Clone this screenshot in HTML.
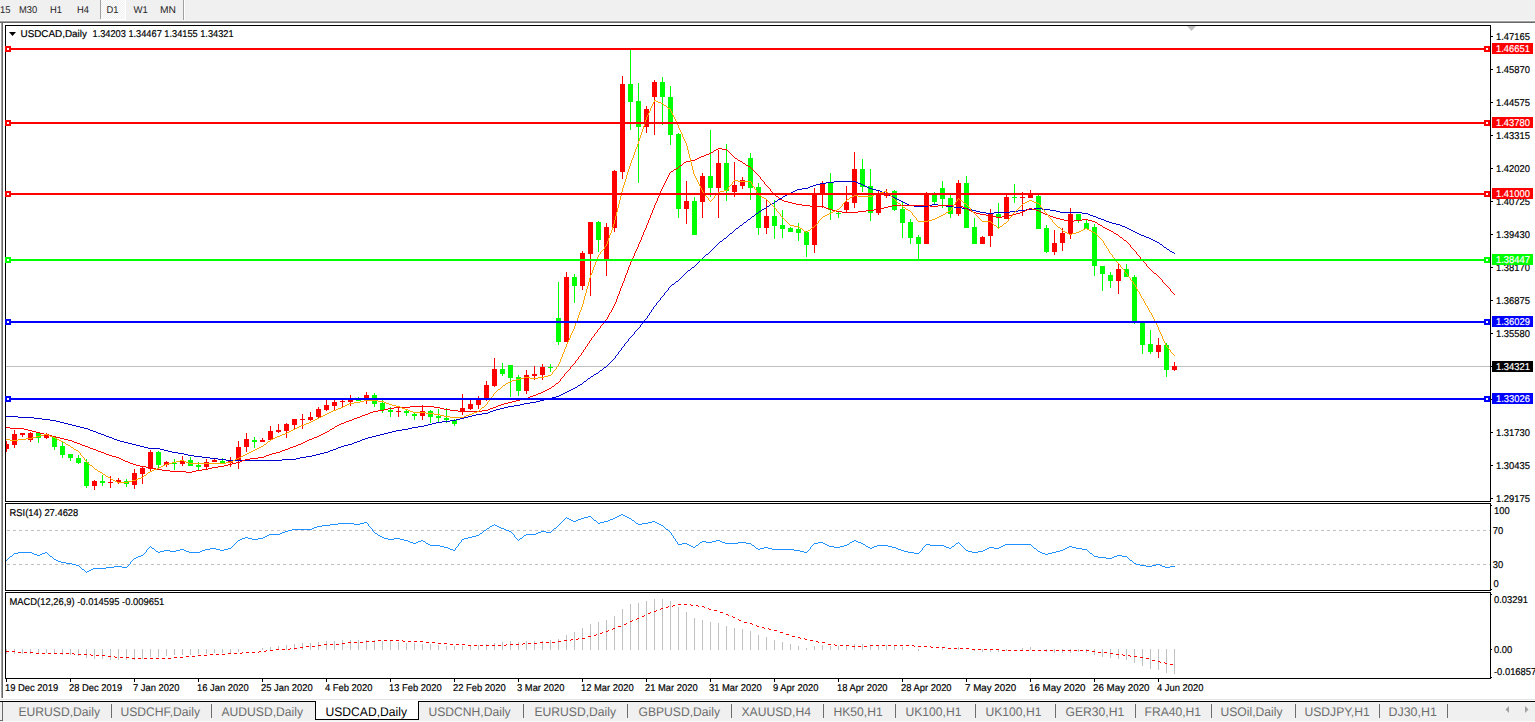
<!DOCTYPE html>
<html><head><meta charset="utf-8"><title>USDCAD,Daily</title>
<style>
html,body{margin:0;padding:0;background:#fff;}
#root{position:relative;width:1535px;height:722px;overflow:hidden;background:#fff;font-family:"Liberation Sans",sans-serif;}
.abs{position:absolute;}
svg text{font-family:"Liberation Sans",sans-serif;text-rendering:geometricPrecision;}
</style></head><body>
<div id="root">
<div class="abs" style="left:0;top:0;width:1535px;height:20px;background:#f0f0f0"></div>
<div class="abs" style="left:0;top:20px;width:1535px;height:1px;background:#f8f8f8"></div>
<div class="abs" style="left:0;top:21px;width:1535px;height:1px;background:#a0a0a0"></div>
<div class="abs" style="left:0;top:22px;width:1535px;height:1px;background:#696969"></div>
<div class="abs" style="left:1px;top:23px;width:1px;height:675px;background:#a0a0a0"></div>
<div class="abs" style="left:2px;top:23px;width:1px;height:675px;background:#696969"></div>
<div class="abs" style="left:0;top:699px;width:1535px;height:1px;background:#e3e3e3"></div>
<div class="abs" style="left:0;top:701px;width:1535px;height:1px;background:#000"></div>
<div class="abs" style="left:0;top:702px;width:1535px;height:20px;background:#f0f0f0"></div>
<div class="abs" style="left:2px;top:702px;width:1px;height:18px;background:#696969"></div>
<div class="abs" style="left:0;top:720px;width:3px;height:1px;background:#696969"></div>
<div class="abs" style="left:3px;top:721px;width:1532px;height:1px;background:#fafafa"></div>
<svg class="abs" style="left:0;top:0" width="1535" height="722">
<defs><pattern id="chk" x="0" y="0" width="2" height="2" patternUnits="userSpaceOnUse"><rect width="2" height="2" fill="#f0f0f0"/><rect width="1" height="1" fill="#fff"/><rect x="1" y="1" width="1" height="1" fill="#fff"/></pattern></defs><rect x="101" y="0" width="24" height="19" fill="url(#chk)"/>
<rect x="100" y="0" width="1" height="19" fill="#a0a0a0"/><rect x="125" y="0" width="1" height="20" fill="#fff"/><rect x="101" y="19" width="24" height="1" fill="#fff"/>
<rect x="183" y="0" width="1" height="20" fill="#a0a0a0"/><rect x="184" y="0" width="1" height="20" fill="#fff"/>
<text transform="translate(0,13) scale(0.9495,1)" font-size="9.9" fill="#262626">15</text>
<text transform="translate(19,13) scale(0.9495,1)" font-size="9.9" fill="#262626">M30</text>
<text transform="translate(50,13) scale(0.9495,1)" font-size="9.9" fill="#262626">H1</text>
<text transform="translate(77,13) scale(0.9495,1)" font-size="9.9" fill="#262626">H4</text>
<text transform="translate(106.5,13) scale(0.9495,1)" font-size="9.9" fill="#262626">D1</text>
<text transform="translate(133.5,13) scale(0.9697,1)" font-size="9.9" fill="#262626">W1</text>
<text transform="translate(160,13) scale(1.0404,1)" font-size="9.9" fill="#262626">MN</text>
<defs><clipPath id="cm"><rect x="6" y="26" width="1484" height="475"/></clipPath><clipPath id="cr"><rect x="6" y="504" width="1484" height="86"/></clipPath><clipPath id="cd"><rect x="6" y="593" width="1484" height="85"/></clipPath></defs>
<rect x="5" y="25" width="1486" height="1" fill="#000"/>
<rect x="5" y="501" width="1486" height="1" fill="#000"/>
<rect x="5" y="25" width="1" height="477" fill="#000"/>
<rect x="1490" y="25" width="1" height="477" fill="#000"/>
<rect x="5" y="503" width="1486" height="1" fill="#000"/>
<rect x="5" y="590" width="1486" height="1" fill="#000"/>
<rect x="5" y="503" width="1" height="88" fill="#000"/>
<rect x="1490" y="503" width="1" height="88" fill="#000"/>
<rect x="5" y="592" width="1486" height="1" fill="#000"/>
<rect x="5" y="678" width="1486" height="1" fill="#000"/>
<rect x="5" y="592" width="1" height="87" fill="#000"/>
<rect x="1490" y="592" width="1" height="87" fill="#000"/>
<g clip-path="url(#cm)">
<rect x="6" y="366" width="1484" height="1" fill="#c0c0c0"/>
<g>
<rect x="6" y="441" width="1" height="11" fill="#ff0000"/><rect x="4" y="444" width="5" height="5" fill="#ff0000"/>
<rect x="14" y="430" width="1" height="18" fill="#ff0000"/><rect x="12" y="434" width="5" height="11" fill="#ff0000"/>
<rect x="22" y="433" width="1" height="4" fill="#ff0000"/><rect x="20" y="433" width="5" height="2" fill="#ff0000"/>
<rect x="30" y="432" width="1" height="10" fill="#ff0000"/><rect x="28" y="433" width="5" height="7" fill="#ff0000"/>
<rect x="38" y="433" width="1" height="10" fill="#00ff00"/><rect x="36" y="433" width="5" height="5" fill="#00ff00"/>
<rect x="46" y="433" width="1" height="6" fill="#ff0000"/><rect x="44" y="434" width="5" height="4" fill="#ff0000"/>
<rect x="54" y="436" width="1" height="14" fill="#00ff00"/><rect x="52" y="437" width="5" height="10" fill="#00ff00"/>
<rect x="62" y="442" width="1" height="16" fill="#00ff00"/><rect x="60" y="446" width="5" height="9" fill="#00ff00"/>
<rect x="70" y="454" width="1" height="7" fill="#00ff00"/><rect x="68" y="454" width="5" height="4" fill="#00ff00"/>
<rect x="78" y="455" width="1" height="9" fill="#00ff00"/><rect x="76" y="458" width="5" height="5" fill="#00ff00"/>
<rect x="86" y="459" width="1" height="29" fill="#00ff00"/><rect x="84" y="462" width="5" height="24" fill="#00ff00"/>
<rect x="94" y="480" width="1" height="10" fill="#ff0000"/><rect x="92" y="481" width="5" height="5" fill="#ff0000"/>
<rect x="102" y="475" width="1" height="11" fill="#00ff00"/><rect x="100" y="481" width="5" height="2" fill="#00ff00"/>
<rect x="110" y="476" width="1" height="12" fill="#ff0000"/><rect x="108" y="482" width="5" height="1" fill="#ff0000"/>
<rect x="118" y="478" width="1" height="6" fill="#ff0000"/><rect x="116" y="480" width="5" height="2" fill="#ff0000"/>
<rect x="126" y="479" width="1" height="8" fill="#00ff00"/><rect x="124" y="481" width="5" height="3" fill="#00ff00"/>
<rect x="134" y="469" width="1" height="20" fill="#ff0000"/><rect x="132" y="473" width="5" height="12" fill="#ff0000"/>
<rect x="142" y="467" width="1" height="17" fill="#ff0000"/><rect x="140" y="468" width="5" height="6" fill="#ff0000"/>
<rect x="150" y="450" width="1" height="21" fill="#ff0000"/><rect x="148" y="452" width="5" height="17" fill="#ff0000"/>
<rect x="158" y="451" width="1" height="17" fill="#00ff00"/><rect x="156" y="452" width="5" height="13" fill="#00ff00"/>
<rect x="166" y="461" width="1" height="6" fill="#ff0000"/><rect x="164" y="462" width="5" height="3" fill="#ff0000"/>
<rect x="174" y="459" width="1" height="11" fill="#00ff00"/><rect x="172" y="463" width="5" height="1" fill="#00ff00"/>
<rect x="182" y="456" width="1" height="10" fill="#ff0000"/><rect x="180" y="461" width="5" height="3" fill="#ff0000"/>
<rect x="190" y="457" width="1" height="9" fill="#00ff00"/><rect x="188" y="460" width="5" height="6" fill="#00ff00"/>
<rect x="198" y="462" width="1" height="8" fill="#00ff00"/><rect x="196" y="465" width="5" height="2" fill="#00ff00"/>
<rect x="206" y="459" width="1" height="10" fill="#ff0000"/><rect x="204" y="462" width="5" height="5" fill="#ff0000"/>
<rect x="214" y="459" width="1" height="3" fill="#ff0000"/><rect x="212" y="460" width="5" height="2" fill="#ff0000"/>
<rect x="222" y="458" width="1" height="5" fill="#00ff00"/><rect x="220" y="461" width="5" height="2" fill="#00ff00"/>
<rect x="230" y="457" width="1" height="10" fill="#ff0000"/><rect x="228" y="461" width="5" height="2" fill="#ff0000"/>
<rect x="238" y="441" width="1" height="28" fill="#ff0000"/><rect x="236" y="447" width="5" height="13" fill="#ff0000"/>
<rect x="246" y="433" width="1" height="19" fill="#ff0000"/><rect x="244" y="439" width="5" height="8" fill="#ff0000"/>
<rect x="254" y="437" width="1" height="11" fill="#00ff00"/><rect x="252" y="440" width="5" height="2" fill="#00ff00"/>
<rect x="262" y="438" width="1" height="4" fill="#ff0000"/><rect x="260" y="440" width="5" height="2" fill="#ff0000"/>
<rect x="270" y="426" width="1" height="14" fill="#ff0000"/><rect x="268" y="431" width="5" height="9" fill="#ff0000"/>
<rect x="278" y="424" width="1" height="9" fill="#ff0000"/><rect x="276" y="430" width="5" height="2" fill="#ff0000"/>
<rect x="286" y="423" width="1" height="15" fill="#ff0000"/><rect x="284" y="424" width="5" height="7" fill="#ff0000"/>
<rect x="294" y="419" width="1" height="10" fill="#ff0000"/><rect x="292" y="419" width="5" height="6" fill="#ff0000"/>
<rect x="302" y="414" width="1" height="15" fill="#ff0000"/><rect x="300" y="419" width="5" height="1" fill="#ff0000"/>
<rect x="310" y="412" width="1" height="9" fill="#ff0000"/><rect x="308" y="417" width="5" height="3" fill="#ff0000"/>
<rect x="318" y="407" width="1" height="11" fill="#ff0000"/><rect x="316" y="409" width="5" height="8" fill="#ff0000"/>
<rect x="326" y="398" width="1" height="13" fill="#ff0000"/><rect x="324" y="405" width="5" height="5" fill="#ff0000"/>
<rect x="334" y="398" width="1" height="12" fill="#ff0000"/><rect x="332" y="402" width="5" height="4" fill="#ff0000"/>
<rect x="342" y="398" width="1" height="9" fill="#ff0000"/><rect x="340" y="401" width="5" height="1" fill="#ff0000"/>
<rect x="350" y="395" width="1" height="11" fill="#ff0000"/><rect x="348" y="400" width="5" height="2" fill="#ff0000"/>
<rect x="358" y="397" width="1" height="4" fill="#00ff00"/><rect x="356" y="398" width="5" height="3" fill="#00ff00"/>
<rect x="366" y="392" width="1" height="12" fill="#ff0000"/><rect x="364" y="395" width="5" height="3" fill="#ff0000"/>
<rect x="374" y="393" width="1" height="14" fill="#00ff00"/><rect x="372" y="395" width="5" height="9" fill="#00ff00"/>
<rect x="382" y="400" width="1" height="13" fill="#00ff00"/><rect x="380" y="403" width="5" height="7" fill="#00ff00"/>
<rect x="390" y="407" width="1" height="10" fill="#00ff00"/><rect x="388" y="410" width="5" height="2" fill="#00ff00"/>
<rect x="398" y="407" width="1" height="10" fill="#ff0000"/><rect x="396" y="411" width="5" height="1" fill="#ff0000"/>
<rect x="406" y="410" width="1" height="6" fill="#00ff00"/><rect x="404" y="411" width="5" height="2" fill="#00ff00"/>
<rect x="414" y="413" width="1" height="7" fill="#00ff00"/><rect x="412" y="414" width="5" height="2" fill="#00ff00"/>
<rect x="422" y="405" width="1" height="15" fill="#ff0000"/><rect x="420" y="411" width="5" height="5" fill="#ff0000"/>
<rect x="430" y="410" width="1" height="13" fill="#00ff00"/><rect x="428" y="411" width="5" height="6" fill="#00ff00"/>
<rect x="438" y="409" width="1" height="13" fill="#00ff00"/><rect x="436" y="416" width="5" height="2" fill="#00ff00"/>
<rect x="446" y="408" width="1" height="15" fill="#00ff00"/><rect x="444" y="418" width="5" height="2" fill="#00ff00"/>
<rect x="454" y="419" width="1" height="7" fill="#00ff00"/><rect x="452" y="420" width="5" height="4" fill="#00ff00"/>
<rect x="462" y="394" width="1" height="21" fill="#ff0000"/><rect x="460" y="408" width="5" height="4" fill="#ff0000"/>
<rect x="470" y="398" width="1" height="12" fill="#ff0000"/><rect x="468" y="404" width="5" height="5" fill="#ff0000"/>
<rect x="478" y="396" width="1" height="13" fill="#ff0000"/><rect x="476" y="400" width="5" height="5" fill="#ff0000"/>
<rect x="486" y="381" width="1" height="20" fill="#ff0000"/><rect x="484" y="385" width="5" height="14" fill="#ff0000"/>
<rect x="494" y="358" width="1" height="29" fill="#ff0000"/><rect x="492" y="369" width="5" height="17" fill="#ff0000"/>
<rect x="502" y="363" width="1" height="13" fill="#00ff00"/><rect x="500" y="369" width="5" height="5" fill="#00ff00"/>
<rect x="510" y="365" width="1" height="32" fill="#00ff00"/><rect x="508" y="365" width="5" height="13" fill="#00ff00"/>
<rect x="518" y="375" width="1" height="21" fill="#00ff00"/><rect x="516" y="377" width="5" height="14" fill="#00ff00"/>
<rect x="526" y="370" width="1" height="24" fill="#ff0000"/><rect x="524" y="375" width="5" height="16" fill="#ff0000"/>
<rect x="534" y="366" width="1" height="14" fill="#ff0000"/><rect x="532" y="374" width="5" height="2" fill="#ff0000"/>
<rect x="542" y="364" width="1" height="16" fill="#ff0000"/><rect x="540" y="367" width="5" height="8" fill="#ff0000"/>
<rect x="550" y="364" width="1" height="8" fill="#00ff00"/><rect x="548" y="367" width="5" height="1" fill="#00ff00"/>
<rect x="558" y="282" width="1" height="63" fill="#00ff00"/><rect x="556" y="318" width="5" height="24" fill="#00ff00"/>
<rect x="566" y="272" width="1" height="70" fill="#ff0000"/><rect x="564" y="277" width="5" height="65" fill="#ff0000"/>
<rect x="574" y="274" width="1" height="29" fill="#00ff00"/><rect x="572" y="277" width="5" height="9" fill="#00ff00"/>
<rect x="582" y="251" width="1" height="39" fill="#ff0000"/><rect x="580" y="253" width="5" height="33" fill="#ff0000"/>
<rect x="590" y="222" width="1" height="74" fill="#ff0000"/><rect x="588" y="222" width="5" height="32" fill="#ff0000"/>
<rect x="598" y="221" width="1" height="31" fill="#00ff00"/><rect x="596" y="222" width="5" height="18" fill="#00ff00"/>
<rect x="606" y="223" width="1" height="53" fill="#ff0000"/><rect x="604" y="227" width="5" height="32" fill="#ff0000"/>
<rect x="614" y="170" width="1" height="62" fill="#ff0000"/><rect x="612" y="171" width="5" height="57" fill="#ff0000"/>
<rect x="622" y="76" width="1" height="103" fill="#ff0000"/><rect x="620" y="84" width="5" height="88" fill="#ff0000"/>
<rect x="630" y="49" width="1" height="81" fill="#00ff00"/><rect x="628" y="84" width="5" height="18" fill="#00ff00"/>
<rect x="638" y="83" width="1" height="100" fill="#00ff00"/><rect x="636" y="101" width="5" height="26" fill="#00ff00"/>
<rect x="646" y="106" width="1" height="27" fill="#ff0000"/><rect x="644" y="109" width="5" height="18" fill="#ff0000"/>
<rect x="654" y="80" width="1" height="55" fill="#ff0000"/><rect x="652" y="82" width="5" height="15" fill="#ff0000"/>
<rect x="662" y="77" width="1" height="48" fill="#00ff00"/><rect x="660" y="82" width="5" height="15" fill="#00ff00"/>
<rect x="670" y="86" width="1" height="59" fill="#00ff00"/><rect x="668" y="97" width="5" height="38" fill="#00ff00"/>
<rect x="678" y="133" width="1" height="85" fill="#00ff00"/><rect x="676" y="134" width="5" height="75" fill="#00ff00"/>
<rect x="686" y="181" width="1" height="43" fill="#ff0000"/><rect x="684" y="201" width="5" height="8" fill="#ff0000"/>
<rect x="694" y="197" width="1" height="38" fill="#00ff00"/><rect x="692" y="201" width="5" height="34" fill="#00ff00"/>
<rect x="702" y="173" width="1" height="45" fill="#ff0000"/><rect x="700" y="176" width="5" height="26" fill="#ff0000"/>
<rect x="710" y="130" width="1" height="67" fill="#00ff00"/><rect x="708" y="176" width="5" height="12" fill="#00ff00"/>
<rect x="718" y="150" width="1" height="68" fill="#ff0000"/><rect x="716" y="163" width="5" height="25" fill="#ff0000"/>
<rect x="726" y="144" width="1" height="57" fill="#00ff00"/><rect x="724" y="163" width="5" height="28" fill="#00ff00"/>
<rect x="734" y="162" width="1" height="35" fill="#ff0000"/><rect x="732" y="185" width="5" height="7" fill="#ff0000"/>
<rect x="742" y="177" width="1" height="12" fill="#ff0000"/><rect x="740" y="180" width="5" height="6" fill="#ff0000"/>
<rect x="750" y="153" width="1" height="47" fill="#00ff00"/><rect x="748" y="158" width="5" height="30" fill="#00ff00"/>
<rect x="758" y="183" width="1" height="52" fill="#00ff00"/><rect x="756" y="187" width="5" height="41" fill="#00ff00"/>
<rect x="766" y="199" width="1" height="35" fill="#ff0000"/><rect x="764" y="216" width="5" height="12" fill="#ff0000"/>
<rect x="774" y="200" width="1" height="39" fill="#00ff00"/><rect x="772" y="216" width="5" height="10" fill="#00ff00"/>
<rect x="782" y="210" width="1" height="28" fill="#00ff00"/><rect x="780" y="225" width="5" height="4" fill="#00ff00"/>
<rect x="790" y="227" width="1" height="5" fill="#00ff00"/><rect x="788" y="228" width="5" height="4" fill="#00ff00"/>
<rect x="798" y="223" width="1" height="18" fill="#00ff00"/><rect x="796" y="229" width="5" height="4" fill="#00ff00"/>
<rect x="806" y="231" width="1" height="26" fill="#00ff00"/><rect x="804" y="232" width="5" height="13" fill="#00ff00"/>
<rect x="814" y="188" width="1" height="65" fill="#ff0000"/><rect x="812" y="194" width="5" height="51" fill="#ff0000"/>
<rect x="822" y="181" width="1" height="27" fill="#ff0000"/><rect x="820" y="184" width="5" height="10" fill="#ff0000"/>
<rect x="830" y="173" width="1" height="47" fill="#00ff00"/><rect x="828" y="183" width="5" height="27" fill="#00ff00"/>
<rect x="838" y="211" width="1" height="7" fill="#00ff00"/><rect x="836" y="213" width="5" height="1" fill="#00ff00"/>
<rect x="846" y="186" width="1" height="27" fill="#ff0000"/><rect x="844" y="202" width="5" height="8" fill="#ff0000"/>
<rect x="854" y="152" width="1" height="56" fill="#ff0000"/><rect x="852" y="169" width="5" height="34" fill="#ff0000"/>
<rect x="862" y="159" width="1" height="33" fill="#00ff00"/><rect x="860" y="169" width="5" height="18" fill="#00ff00"/>
<rect x="870" y="169" width="1" height="52" fill="#00ff00"/><rect x="868" y="186" width="5" height="27" fill="#00ff00"/>
<rect x="878" y="191" width="1" height="24" fill="#ff0000"/><rect x="876" y="194" width="5" height="19" fill="#ff0000"/>
<rect x="886" y="189" width="1" height="9" fill="#ff0000"/><rect x="884" y="194" width="5" height="2" fill="#ff0000"/>
<rect x="894" y="190" width="1" height="21" fill="#00ff00"/><rect x="892" y="191" width="5" height="19" fill="#00ff00"/>
<rect x="902" y="202" width="1" height="36" fill="#00ff00"/><rect x="900" y="209" width="5" height="14" fill="#00ff00"/>
<rect x="910" y="219" width="1" height="25" fill="#00ff00"/><rect x="908" y="222" width="5" height="16" fill="#00ff00"/>
<rect x="918" y="235" width="1" height="25" fill="#00ff00"/><rect x="916" y="237" width="5" height="7" fill="#00ff00"/>
<rect x="926" y="192" width="1" height="52" fill="#ff0000"/><rect x="924" y="194" width="5" height="50" fill="#ff0000"/>
<rect x="934" y="192" width="1" height="13" fill="#00ff00"/><rect x="932" y="195" width="5" height="7" fill="#00ff00"/>
<rect x="942" y="181" width="1" height="27" fill="#00ff00"/><rect x="940" y="188" width="5" height="11" fill="#00ff00"/>
<rect x="950" y="195" width="1" height="23" fill="#00ff00"/><rect x="948" y="198" width="5" height="16" fill="#00ff00"/>
<rect x="958" y="180" width="1" height="36" fill="#ff0000"/><rect x="956" y="183" width="5" height="31" fill="#ff0000"/>
<rect x="966" y="176" width="1" height="52" fill="#00ff00"/><rect x="964" y="183" width="5" height="45" fill="#00ff00"/>
<rect x="974" y="218" width="1" height="26" fill="#00ff00"/><rect x="972" y="227" width="5" height="17" fill="#00ff00"/>
<rect x="982" y="236" width="1" height="8" fill="#ff0000"/><rect x="980" y="237" width="5" height="7" fill="#ff0000"/>
<rect x="990" y="209" width="1" height="38" fill="#ff0000"/><rect x="988" y="214" width="5" height="22" fill="#ff0000"/>
<rect x="998" y="203" width="1" height="25" fill="#00ff00"/><rect x="996" y="214" width="5" height="4" fill="#00ff00"/>
<rect x="1006" y="195" width="1" height="24" fill="#ff0000"/><rect x="1004" y="197" width="5" height="22" fill="#ff0000"/>
<rect x="1014" y="184" width="1" height="19" fill="#00ff00"/><rect x="1012" y="197" width="5" height="1" fill="#00ff00"/>
<rect x="1022" y="192" width="1" height="24" fill="#ff0000"/><rect x="1020" y="197" width="5" height="1" fill="#ff0000"/>
<rect x="1030" y="190" width="1" height="8" fill="#ff0000"/><rect x="1028" y="194" width="5" height="4" fill="#ff0000"/>
<rect x="1038" y="195" width="1" height="34" fill="#00ff00"/><rect x="1036" y="196" width="5" height="33" fill="#00ff00"/>
<rect x="1046" y="225" width="1" height="28" fill="#00ff00"/><rect x="1044" y="228" width="5" height="24" fill="#00ff00"/>
<rect x="1054" y="230" width="1" height="25" fill="#ff0000"/><rect x="1052" y="243" width="5" height="9" fill="#ff0000"/>
<rect x="1062" y="228" width="1" height="23" fill="#ff0000"/><rect x="1060" y="233" width="5" height="10" fill="#ff0000"/>
<rect x="1070" y="208" width="1" height="31" fill="#ff0000"/><rect x="1068" y="214" width="5" height="20" fill="#ff0000"/>
<rect x="1078" y="214" width="1" height="9" fill="#00ff00"/><rect x="1076" y="214" width="5" height="7" fill="#00ff00"/>
<rect x="1086" y="219" width="1" height="10" fill="#00ff00"/><rect x="1084" y="223" width="5" height="6" fill="#00ff00"/>
<rect x="1094" y="224" width="1" height="52" fill="#00ff00"/><rect x="1092" y="227" width="5" height="39" fill="#00ff00"/>
<rect x="1102" y="266" width="1" height="25" fill="#00ff00"/><rect x="1100" y="266" width="5" height="8" fill="#00ff00"/>
<rect x="1110" y="272" width="1" height="16" fill="#00ff00"/><rect x="1108" y="275" width="5" height="6" fill="#00ff00"/>
<rect x="1118" y="264" width="1" height="30" fill="#ff0000"/><rect x="1116" y="269" width="5" height="12" fill="#ff0000"/>
<rect x="1126" y="264" width="1" height="13" fill="#00ff00"/><rect x="1124" y="269" width="5" height="8" fill="#00ff00"/>
<rect x="1134" y="275" width="1" height="49" fill="#00ff00"/><rect x="1132" y="277" width="5" height="46" fill="#00ff00"/>
<rect x="1142" y="323" width="1" height="31" fill="#00ff00"/><rect x="1140" y="323" width="5" height="22" fill="#00ff00"/>
<rect x="1150" y="330" width="1" height="24" fill="#00ff00"/><rect x="1148" y="344" width="5" height="8" fill="#00ff00"/>
<rect x="1158" y="338" width="1" height="20" fill="#ff0000"/><rect x="1156" y="345" width="5" height="7" fill="#ff0000"/>
<rect x="1166" y="343" width="1" height="34" fill="#00ff00"/><rect x="1164" y="345" width="5" height="25" fill="#00ff00"/>
<rect x="1174" y="362" width="1" height="9" fill="#ff0000"/><rect x="1172" y="366" width="5" height="4" fill="#ff0000"/>
</g>
<path d="M530 402h6v1h-6zM727 236h1v1h-1zM1144 236h2v1h-2zM772 203h2v1h-2zM905 203h2v1h-2zM695 265h1v1h-1zM762 209h2v1h-2zM968 209h4v1h-4zM1026 209h8v1h-8zM1042 209h8v1h-8zM42 419h8v1h-8zM456 419h4v1h-4zM761 210h1v1h-1zM972 210h4v1h-4zM1018 210h8v1h-8zM1050 210h6v1h-6zM101 434h3v1h-3zM380 434h4v1h-4zM218 459h8v1h-8zM282 459h14v1h-14zM785 195h2v1h-2zM889 195h2v1h-2zM742 224h1v1h-1zM1116 224h4v1h-4zM120 441h4v1h-4zM357 441h3v1h-3zM777 200h1v1h-1zM899 200h2v1h-2zM755 214h1v1h-1zM1088 214h2v1h-2zM735 229h1v1h-1zM1129 229h2v1h-2zM148 448h12v1h-12zM336 448h2v1h-2zM482 413h6v1h-6zM769 205h1v1h-1zM909 205h5v1h-5zM928 205h4v1h-4zM938 205h8v1h-8zM808 187h2v1h-2zM867 187h2v1h-2zM559 395h2v1h-2zM109 437h3v1h-3zM368 437h4v1h-4zM56 421h4v1h-4zM442 421h8v1h-8zM660 298h1v1h-1zM34 418h8v1h-8zM460 418h4v1h-4zM758 212h1v1h-1zM980 212h6v1h-6zM994 212h16v1h-16zM1060 212h22v1h-22zM746 221h1v1h-1zM1106 221h3v1h-3zM624 344h1v1h-1zM593 375h1v1h-1zM172 452h6v1h-6zM324 452h4v1h-4zM184 454h4v1h-4zM316 454h4v1h-4zM834 181h22v1h-22zM6 416h12v1h-12zM468 416h4v1h-4zM720 241h2v1h-2zM1155 241h2v1h-2zM604 367h2v1h-2zM747 220h1v1h-1zM1104 220h2v1h-2zM767 206h2v1h-2zM914 206h14v1h-14zM946 206h8v1h-8zM726 237h1v1h-1zM1146 237h3v1h-3zM68 424h4v1h-4zM428 424h4v1h-4zM565 392h2v1h-2zM226 460h56v1h-56zM675 282h1v1h-1zM826 182h8v1h-8zM856 182h2v1h-2zM738 227h1v1h-1zM1125 227h2v1h-2zM520 404h4v1h-4zM573 388h2v1h-2zM84 428h4v1h-4zM408 428h4v1h-4zM813 185h3v1h-3zM863 185h2v1h-2zM795 190h2v1h-2zM876 190h4v1h-4zM586 380h1v1h-1zM710 251h1v1h-1zM1170 251h2v1h-2zM132 444h4v1h-4zM348 444h4v1h-4zM679 279h1v1h-1zM644 321h1v1h-1zM106 436h3v1h-3zM372 436h4v1h-4zM194 456h8v1h-8zM306 456h6v1h-6zM578 385h2v1h-2zM668 288h1v1h-1zM759 211h2v1h-2zM976 211h4v1h-4zM1010 211h8v1h-8zM1056 211h4v1h-4zM750 218h1v1h-1zM1098 218h3v1h-3zM764 208h2v1h-2zM962 208h6v1h-6zM1034 208h8v1h-8zM569 390h2v1h-2zM96 432h2v1h-2zM388 432h4v1h-4zM723 239h1v1h-1zM1151 239h2v1h-2zM168 451h4v1h-4zM328 451h2v1h-2zM754 215h1v1h-1zM1090 215h3v1h-3zM816 184h4v1h-4zM861 184h2v1h-2zM651 311h1v1h-1zM766 207h1v1h-1zM954 207h8v1h-8zM802 188h6v1h-6zM869 188h3v1h-3zM756 213h2v1h-2zM986 213h8v1h-8zM1082 213h6v1h-6zM60 422h4v1h-4zM436 422h6v1h-6zM112 438h2v1h-2zM365 438h3v1h-3zM210 458h8v1h-8zM296 458h4v1h-4zM80 427h4v1h-4zM412 427h6v1h-6zM617 354h1v1h-1zM500 408h4v1h-4zM164 450h4v1h-4zM330 450h3v1h-3zM620 350h1v1h-1zM752 216h2v1h-2zM1093 216h3v1h-3zM188 455h6v1h-6zM312 455h4v1h-4zM104 435h2v1h-2zM376 435h4v1h-4zM708 253h1v1h-1zM1174 253h1v1h-1zM699 261h1v1h-1zM514 405h6v1h-6zM797 189h5v1h-5zM872 189h4v1h-4zM612 360h1v1h-1zM615 356h1v1h-1zM88 429h2v1h-2zM402 429h6v1h-6zM76 426h4v1h-4zM418 426h6v1h-6zM561 394h2v1h-2zM72 425h4v1h-4zM424 425h4v1h-4zM508 406h6v1h-6zM783 196h2v1h-2zM891 196h2v1h-2zM711 250h1v1h-1zM1169 250h1v1h-1zM140 446h4v1h-4zM341 446h3v1h-3zM729 234h1v1h-1zM1139 234h2v1h-2zM178 453h6v1h-6zM320 453h4v1h-4zM98 433h3v1h-3zM384 433h4v1h-4zM18 417h16v1h-16zM464 417h4v1h-4zM628 340h1v1h-1zM686 272h1v1h-1zM540 400h4v1h-4zM718 243h1v1h-1zM1159 243h1v1h-1zM791 192h2v1h-2zM882 192h3v1h-3zM820 183h6v1h-6zM858 183h3v1h-3zM722 240h1v1h-1zM1153 240h2v1h-2zM770 204h2v1h-2zM907 204h2v1h-2zM932 204h6v1h-6zM114 439h3v1h-3zM362 439h3v1h-3zM50 420h6v1h-6zM450 420h6v1h-6zM603 368h1v1h-1zM623 346h1v1h-1zM136 445h4v1h-4zM344 445h4v1h-4zM709 252h1v1h-1zM1172 252h2v1h-2zM702 258h1v1h-1zM748 219h2v1h-2zM1101 219h3v1h-3zM496 409h4v1h-4zM639 327h1v1h-1zM548 398h4v1h-4zM117 440h3v1h-3zM360 440h2v1h-2zM651 310h1v1h-1zM636 330h1v1h-1zM90 430h3v1h-3zM396 430h6v1h-6zM490 411h3v1h-3zM713 248h1v1h-1zM1166 248h1v1h-1zM124 442h4v1h-4zM354 442h3v1h-3zM667 290h1v1h-1zM472 415h4v1h-4zM556 396h3v1h-3zM810 186h3v1h-3zM865 186h2v1h-2zM774 202h1v1h-1zM903 202h2v1h-2zM536 401h4v1h-4zM744 222h2v1h-2zM1109 222h3v1h-3zM160 449h4v1h-4zM333 449h3v1h-3zM647 317h1v1h-1zM733 231h1v1h-1zM1133 231h2v1h-2zM743 223h1v1h-1zM1112 223h4v1h-4zM202 457h8v1h-8zM300 457h6v1h-6zM690 269h1v1h-1zM659 300h1v1h-1zM778 199h2v1h-2zM897 199h2v1h-2zM476 414h6v1h-6zM736 228h2v1h-2zM1127 228h2v1h-2zM144 447h4v1h-4zM338 447h3v1h-3zM694 266h1v1h-1zM575 387h2v1h-2zM607 365h1v1h-1zM544 399h4v1h-4zM654 306h1v1h-1zM580 384h2v1h-2zM775 201h2v1h-2zM901 201h2v1h-2zM782 197h1v1h-1zM893 197h2v1h-2zM789 193h2v1h-2zM885 193h2v1h-2zM591 376h2v1h-2zM714 247h1v1h-1zM1164 247h2v1h-2zM670 286h1v1h-1zM584 381h2v1h-2zM706 254h2v1h-2zM674 283h1v1h-1zM716 245h1v1h-1zM1162 245h1v1h-1zM662 296h1v1h-1zM697 263h1v1h-1zM631 336h1v1h-1zM634 332h1v1h-1zM740 225h2v1h-2zM1120 225h2v1h-2zM64 423h4v1h-4zM432 423h4v1h-4zM647 316h1v1h-1zM626 342h1v1h-1zM571 389h2v1h-2zM93 431h3v1h-3zM392 431h4v1h-4zM793 191h2v1h-2zM880 191h2v1h-2zM567 391h2v1h-2zM588 378h2v1h-2zM524 403h6v1h-6zM611 361h1v1h-1zM724 238h2v1h-2zM1149 238h2v1h-2zM728 235h1v1h-1zM1141 235h3v1h-3zM678 280h1v1h-1zM128 443h4v1h-4zM352 443h2v1h-2zM504 407h4v1h-4zM488 412h2v1h-2zM732 232h1v1h-1zM1135 232h2v1h-2zM650 312h1v1h-1zM653 308h1v1h-1zM676 281h2v1h-2zM552 397h4v1h-4zM730 233h2v1h-2zM1137 233h2v1h-2zM717 244h1v1h-1zM1160 244h2v1h-2zM701 259h1v1h-1zM493 410h3v1h-3zM734 230h1v1h-1zM1131 230h2v1h-2zM614 358h1v1h-1zM739 226h1v1h-1zM1122 226h3v1h-3zM681 277h1v1h-1zM751 217h1v1h-1zM1096 217h2v1h-2zM563 393h2v1h-2zM719 242h1v1h-1zM1157 242h2v1h-2zM598 372h1v1h-1zM590 377h1v1h-1zM715 246h1v1h-1zM1163 246h1v1h-1zM594 374h2v1h-2zM638 328h1v1h-1zM641 324h1v1h-1zM653 307h1v1h-1zM688 270h2v1h-2zM633 334h1v1h-1zM692 267h2v1h-2zM649 314h1v1h-1zM712 249h1v1h-1zM1167 249h2v1h-2zM661 297h1v1h-1zM696 264h1v1h-1zM685 273h1v1h-1zM609 363h1v1h-1zM656 304h1v1h-1zM787 194h2v1h-2zM887 194h2v1h-2zM644 320h1v1h-1zM602 369h1v1h-1zM625 343h1v1h-1zM672 284h2v1h-2zM669 287h1v1h-1zM664 294h1v1h-1zM703 257h1v1h-1zM780 198h2v1h-2zM895 198h2v1h-2zM683 275h1v1h-1zM628 339h1v1h-1zM656 303h1v1h-1zM613 359h1v1h-1zM680 278h1v1h-1zM596 373h2v1h-2zM640 326h1v1h-1zM664 293h1v1h-1zM577 386h1v1h-1zM616 355h1v1h-1zM687 271h1v1h-1zM632 335h1v1h-1zM600 370h2v1h-2zM624 345h1v1h-1zM608 364h1v1h-1zM652 309h1v1h-1zM619 351h1v1h-1zM663 295h1v1h-1zM698 262h1v1h-1zM643 322h1v1h-1zM646 318h1v1h-1zM655 305h1v1h-1zM658 301h1v1h-1zM627 341h1v1h-1zM615 357h1v1h-1zM682 276h1v1h-1zM671 285h1v1h-1zM622 347h1v1h-1zM666 291h1v1h-1zM635 331h1v1h-1zM705 255h1v1h-1zM630 337h1v1h-1zM606 366h1v1h-1zM583 382h1v1h-1zM587 379h1v1h-1zM599 371h1v1h-1zM649 313h1v1h-1zM618 353h1v1h-1zM634 333h1v1h-1zM610 362h1v1h-1zM642 323h1v1h-1zM621 349h1v1h-1zM700 260h1v1h-1zM637 329h1v1h-1zM618 352h1v1h-1zM665 292h1v1h-1zM691 268h1v1h-1zM660 299h1v1h-1zM645 319h1v1h-1zM648 315h1v1h-1zM657 302h1v1h-1zM629 338h1v1h-1zM684 274h1v1h-1zM640 325h1v1h-1zM621 348h1v1h-1zM668 289h1v1h-1zM582 383h1v1h-1zM704 256h1v1h-1z" fill="#0000cd"/>
<path d="M635 251h1v1h-1zM1135 251h1v1h-1zM655 203h1v1h-1zM792 203h4v1h-4zM599 328h1v1h-1zM378 410h6v1h-6zM450 410h8v1h-8zM482 410h6v1h-6zM655 204h1v1h-1zM796 204h6v1h-6zM954 204h5v1h-5zM652 211h1v1h-1zM836 211h6v1h-6zM858 211h8v1h-8zM971 211h2v1h-2zM1023 211h2v1h-2zM1039 211h2v1h-2zM594 334h1v1h-1zM653 208h1v1h-1zM826 208h3v1h-3zM880 208h4v1h-4zM965 208h2v1h-2zM1029 208h3v1h-3zM52 436h4v1h-4zM317 436h2v1h-2zM643 232h1v1h-1zM1113 232h1v1h-1zM373 411h5v1h-5zM458 411h24v1h-24zM653 209h1v1h-1zM829 209h3v1h-3zM874 209h6v1h-6zM967 209h2v1h-2zM1027 209h2v1h-2zM1032 209h4v1h-4zM555 384h1v1h-1zM651 214h1v1h-1zM980 214h6v1h-6zM1012 214h4v1h-4zM1045 214h3v1h-3zM56 437h4v1h-4zM314 437h3v1h-3zM631 261h1v1h-1zM1143 261h1v1h-1zM106 454h3v1h-3zM269 454h3v1h-3zM654 205h1v1h-1zM802 205h8v1h-8zM892 205h38v1h-38zM938 205h16v1h-16zM959 205h2v1h-2zM28 430h4v1h-4zM329 430h1v1h-1zM101 452h3v1h-3zM276 452h4v1h-4zM10 428h14v1h-14zM332 428h2v1h-2zM650 217h1v1h-1zM996 217h6v1h-6zM1053 217h3v1h-3zM394 407h16v1h-16zM434 407h6v1h-6zM493 407h3v1h-3zM567 371h1v1h-1zM674 169h2v1h-2zM752 169h1v1h-1zM562 377h1v1h-1zM68 440h4v1h-4zM307 440h2v1h-2zM634 253h1v1h-1zM1136 253h1v1h-1zM652 212h1v1h-1zM842 212h16v1h-16zM973 212h3v1h-3zM1020 212h3v1h-3zM1041 212h2v1h-2zM646 227h1v1h-1zM1103 227h2v1h-2zM578 357h1v1h-1zM648 221h1v1h-1zM1068 221h6v1h-6zM1092 221h3v1h-3zM186 472h6v1h-6zM125 461h3v1h-3zM240 461h2v1h-2zM116 457h3v1h-3zM258 457h6v1h-6zM64 439h4v1h-4zM309 439h3v1h-3zM119 458h2v1h-2zM250 458h8v1h-8zM643 234h1v1h-1zM1116 234h2v1h-2zM121 459h2v1h-2zM245 459h5v1h-5zM72 441h2v1h-2zM305 441h2v1h-2zM652 210h1v1h-1zM832 210h4v1h-4zM866 210h8v1h-8zM969 210h2v1h-2zM1025 210h2v1h-2zM1036 210h3v1h-3zM104 453h2v1h-2zM272 453h4v1h-4zM32 431h4v1h-4zM327 431h2v1h-2zM650 215h1v1h-1zM986 215h6v1h-6zM1008 215h4v1h-4zM1048 215h2v1h-2zM128 462h2v1h-2zM236 462h4v1h-4zM156 469h6v1h-6zM202 469h6v1h-6zM650 216h1v1h-1zM992 216h4v1h-4zM1002 216h6v1h-6zM1050 216h3v1h-3zM152 468h4v1h-4zM208 468h4v1h-4zM654 206h1v1h-1zM810 206h14v1h-14zM888 206h4v1h-4zM930 206h8v1h-8zM961 206h2v1h-2zM80 444h2v1h-2zM298 444h3v1h-3zM648 220h1v1h-1zM1064 220h4v1h-4zM1074 220h8v1h-8zM1088 220h4v1h-4zM695 159h2v1h-2zM737 159h1v1h-1zM651 213h1v1h-1zM976 213h4v1h-4zM1016 213h4v1h-4zM1043 213h2v1h-2zM136 465h4v1h-4zM224 465h4v1h-4zM410 406h24v1h-24zM496 406h2v1h-2zM632 259h1v1h-1zM1141 259h1v1h-1zM498 405h3v1h-3zM621 286h1v1h-1zM1167 286h1v1h-1zM577 359h1v1h-1zM170 471h16v1h-16zM192 471h4v1h-4zM711 152h2v1h-2zM729 152h1v1h-1zM649 219h1v1h-1zM1060 219h4v1h-4zM1082 219h6v1h-6zM90 448h3v1h-3zM288 448h2v1h-2zM82 445h3v1h-3zM296 445h2v1h-2zM545 390h2v1h-2zM112 456h4v1h-4zM264 456h2v1h-2zM6 427h4v1h-4zM334 427h1v1h-1zM611 311h1v1h-1zM501 404h3v1h-3zM657 198h1v1h-1zM779 198h1v1h-1zM714 150h2v1h-2zM727 150h1v1h-1zM663 186h1v1h-1zM767 186h1v1h-1zM662 187h1v1h-1zM768 187h1v1h-1zM620 288h1v1h-1zM1169 288h1v1h-1zM607 318h1v1h-1zM40 433h4v1h-4zM323 433h2v1h-2zM634 254h1v1h-1zM1137 254h1v1h-1zM388 408h6v1h-6zM440 408h4v1h-4zM490 408h3v1h-3zM634 255h1v1h-1zM1138 255h1v1h-1zM604 321h1v1h-1zM618 294h1v1h-1zM1174 294h1v1h-1zM547 389h2v1h-2zM628 269h1v1h-1zM1150 269h1v1h-1zM24 429h4v1h-4zM330 429h2v1h-2zM543 391h2v1h-2zM146 467h6v1h-6zM212 467h6v1h-6zM85 446h3v1h-3zM293 446h3v1h-3zM636 250h1v1h-1zM1134 250h1v1h-1zM656 201h1v1h-1zM784 201h4v1h-4zM668 175h1v1h-1zM758 175h1v1h-1zM533 395h3v1h-3zM96 450h2v1h-2zM282 450h3v1h-3zM628 267h1v1h-1zM1148 267h1v1h-1zM162 470h8v1h-8zM196 470h6v1h-6zM627 272h1v1h-1zM1153 272h1v1h-1zM620 290h1v1h-1zM1170 290h1v1h-1zM583 350h1v1h-1zM77 443h3v1h-3zM301 443h2v1h-2zM646 226h1v1h-1zM1102 226h1v1h-1zM656 202h1v1h-1zM788 202h4v1h-4zM93 449h3v1h-3zM285 449h3v1h-3zM667 177h1v1h-1zM760 177h1v1h-1zM631 260h1v1h-1zM1142 260h1v1h-1zM554 385h1v1h-1zM574 363h1v1h-1zM644 230h1v1h-1zM1109 230h2v1h-2zM524 398h4v1h-4zM632 258h1v1h-1zM1140 258h1v1h-1zM354 418h3v1h-3zM566 372h1v1h-1zM512 401h4v1h-4zM614 305h1v1h-1zM582 352h1v1h-1zM561 378h1v1h-1zM666 179h1v1h-1zM761 179h1v1h-1zM640 240h1v1h-1zM1124 240h2v1h-2zM716 149h2v1h-2zM722 149h5v1h-5zM630 262h1v1h-1zM1144 262h1v1h-1zM642 236h1v1h-1zM1119 236h1v1h-1zM621 287h1v1h-1zM1168 287h1v1h-1zM682 164h1v1h-1zM745 164h1v1h-1zM140 466h6v1h-6zM218 466h6v1h-6zM613 307h1v1h-1zM660 192h1v1h-1zM772 192h1v1h-1zM609 314h1v1h-1zM641 238h1v1h-1zM1122 238h1v1h-1zM628 268h1v1h-1zM1149 268h1v1h-1zM600 327h1v1h-1zM704 155h2v1h-2zM732 155h1v1h-1zM636 249h1v1h-1zM1133 249h1v1h-1zM654 207h1v1h-1zM824 207h2v1h-2zM884 207h4v1h-4zM963 207h2v1h-2zM74 442h3v1h-3zM303 442h2v1h-2zM657 200h1v1h-1zM782 200h2v1h-2zM669 174h1v1h-1zM757 174h1v1h-1zM643 233h1v1h-1zM1114 233h2v1h-2zM588 343h1v1h-1zM365 414h3v1h-3zM627 271h1v1h-1zM1152 271h1v1h-1zM620 289h1v1h-1zM1170 289h1v1h-1zM676 168h2v1h-2zM751 168h1v1h-1zM635 252h1v1h-1zM1136 252h1v1h-1zM579 356h1v1h-1zM624 278h1v1h-1zM1160 278h1v1h-1zM536 394h2v1h-2zM594 335h1v1h-1zM560 379h1v1h-1zM530 396h3v1h-3zM690 160h5v1h-5zM738 160h2v1h-2zM659 194h1v1h-1zM774 194h1v1h-1zM44 434h4v1h-4zM321 434h2v1h-2zM649 218h1v1h-1zM1056 218h4v1h-4zM633 257h1v1h-1zM1140 257h1v1h-1zM551 387h1v1h-1zM664 184h1v1h-1zM765 184h1v1h-1zM520 399h4v1h-4zM384 409h4v1h-4zM444 409h6v1h-6zM488 409h2v1h-2zM587 345h1v1h-1zM614 304h1v1h-1zM352 419h2v1h-2zM60 438h4v1h-4zM312 438h2v1h-2zM578 358h1v1h-1zM559 381h1v1h-1zM663 185h1v1h-1zM766 185h1v1h-1zM642 235h1v1h-1zM1118 235h1v1h-1zM341 423h3v1h-3zM109 455h3v1h-3zM266 455h3v1h-3zM48 435h4v1h-4zM319 435h2v1h-2zM713 151h1v1h-1zM728 151h1v1h-1zM570 367h1v1h-1zM619 292h1v1h-1zM1172 292h1v1h-1zM619 293h1v1h-1zM1173 293h1v1h-1zM565 373h1v1h-1zM508 402h4v1h-4zM613 306h1v1h-1zM659 193h1v1h-1zM773 193h1v1h-1zM706 154h3v1h-3zM731 154h1v1h-1zM678 167h1v1h-1zM750 167h1v1h-1zM609 313h1v1h-1zM641 237h1v1h-1zM1120 237h2v1h-2zM605 320h1v1h-1zM630 264h1v1h-1zM1146 264h1v1h-1zM629 265h1v1h-1zM1146 265h1v1h-1zM638 245h1v1h-1zM1130 245h1v1h-1zM657 199h1v1h-1zM780 199h2v1h-2zM669 173h1v1h-1zM756 173h1v1h-1zM593 336h1v1h-1zM608 315h1v1h-1zM639 242h1v1h-1zM1127 242h1v1h-1zM646 225h1v1h-1zM1100 225h2v1h-2zM604 322h1v1h-1zM335 426h2v1h-2zM98 451h3v1h-3zM280 451h2v1h-2zM617 297h1v1h-1zM701 156h3v1h-3zM733 156h1v1h-1zM668 176h1v1h-1zM759 176h1v1h-1zM699 157h2v1h-2zM734 157h1v1h-1zM645 228h1v1h-1zM1105 228h2v1h-2zM664 183h1v1h-1zM764 183h1v1h-1zM641 239h1v1h-1zM1123 239h1v1h-1zM572 365h1v1h-1zM587 344h1v1h-1zM362 415h3v1h-3zM552 386h2v1h-2zM622 285h1v1h-1zM1166 285h1v1h-1zM130 463h3v1h-3zM232 463h4v1h-4zM583 351h1v1h-1zM564 374h1v1h-1zM667 178h1v1h-1zM760 178h1v1h-1zM661 190h1v1h-1zM770 190h1v1h-1zM638 244h1v1h-1zM1129 244h1v1h-1zM683 163h1v1h-1zM743 163h2v1h-2zM709 153h2v1h-2zM730 153h1v1h-1zM36 432h4v1h-4zM325 432h2v1h-2zM133 464h3v1h-3zM228 464h4v1h-4zM88 447h2v1h-2zM290 447h3v1h-3zM658 196h1v1h-1zM776 196h2v1h-2zM558 382h1v1h-1zM344 422h2v1h-2zM370 412h3v1h-3zM339 424h2v1h-2zM630 263h1v1h-1zM1145 263h1v1h-1zM647 224h1v1h-1zM1098 224h2v1h-2zM541 392h2v1h-2zM659 195h1v1h-1zM775 195h1v1h-1zM617 296h1v1h-1zM597 331h1v1h-1zM592 337h1v1h-1zM718 148h4v1h-4zM603 323h1v1h-1zM549 388h2v1h-2zM619 291h1v1h-1zM1171 291h1v1h-1zM671 171h2v1h-2zM754 171h1v1h-1zM648 222h1v1h-1zM1095 222h2v1h-2zM679 166h1v1h-1zM748 166h2v1h-2zM624 279h1v1h-1zM1161 279h1v1h-1zM504 403h4v1h-4zM560 380h1v1h-1zM661 189h1v1h-1zM770 189h1v1h-1zM576 360h1v1h-1zM644 231h1v1h-1zM1111 231h2v1h-2zM571 366h1v1h-1zM626 273h1v1h-1zM1154 273h2v1h-2zM626 274h1v1h-1zM1156 274h1v1h-1zM680 165h2v1h-2zM746 165h2v1h-2zM670 172h1v1h-1zM755 172h1v1h-1zM623 281h1v1h-1zM1162 281h1v1h-1zM697 158h2v1h-2zM735 158h2v1h-2zM575 362h1v1h-1zM640 241h1v1h-1zM1126 241h1v1h-1zM570 368h1v1h-1zM627 270h1v1h-1zM1151 270h1v1h-1zM622 284h1v1h-1zM1165 284h1v1h-1zM357 417h3v1h-3zM602 324h1v1h-1zM625 276h1v1h-1zM1158 276h1v1h-1zM516 400h4v1h-4zM638 246h1v1h-1zM1130 246h1v1h-1zM597 330h1v1h-1zM608 316h1v1h-1zM686 161h4v1h-4zM740 161h2v1h-2zM645 229h1v1h-1zM1107 229h2v1h-2zM123 460h2v1h-2zM242 460h3v1h-3zM617 298h1v1h-1zM637 248h1v1h-1zM1132 248h1v1h-1zM581 353h1v1h-1zM349 420h3v1h-3zM673 170h1v1h-1zM753 170h1v1h-1zM596 332h1v1h-1zM684 162h2v1h-2zM742 162h1v1h-1zM647 223h1v1h-1zM1097 223h1v1h-1zM616 300h1v1h-1zM564 375h1v1h-1zM580 355h1v1h-1zM575 361h1v1h-1zM368 413h2v1h-2zM538 393h3v1h-3zM615 302h1v1h-1zM622 283h1v1h-1zM1164 283h1v1h-1zM629 266h1v1h-1zM1147 266h1v1h-1zM360 416h2v1h-2zM598 329h1v1h-1zM610 312h1v1h-1zM666 180h1v1h-1zM762 180h1v1h-1zM639 243h1v1h-1zM1128 243h1v1h-1zM606 319h1v1h-1zM601 325h1v1h-1zM637 247h1v1h-1zM1131 247h1v1h-1zM589 341h1v1h-1zM616 299h1v1h-1zM585 348h1v1h-1zM624 280h1v1h-1zM1162 280h1v1h-1zM556 383h2v1h-2zM660 191h1v1h-1zM771 191h1v1h-1zM337 425h2v1h-2zM665 181h1v1h-1zM763 181h1v1h-1zM568 370h1v1h-1zM563 376h1v1h-1zM623 282h1v1h-1zM1163 282h1v1h-1zM612 309h1v1h-1zM658 197h1v1h-1zM778 197h1v1h-1zM591 338h1v1h-1zM346 421h3v1h-3zM590 340h1v1h-1zM585 347h1v1h-1zM618 295h1v1h-1zM625 275h1v1h-1zM1157 275h1v1h-1zM581 354h1v1h-1zM665 182h1v1h-1zM764 182h1v1h-1zM633 256h1v1h-1zM1139 256h1v1h-1zM584 349h1v1h-1zM569 369h1v1h-1zM616 301h1v1h-1zM662 188h1v1h-1zM769 188h1v1h-1zM612 308h1v1h-1zM615 303h1v1h-1zM611 310h1v1h-1zM528 397h2v1h-2zM607 317h1v1h-1zM625 277h1v1h-1zM1159 277h1v1h-1zM595 333h1v1h-1zM586 346h1v1h-1zM589 342h1v1h-1zM573 364h1v1h-1zM600 326h1v1h-1zM591 339h1v1h-1z" fill="#ff0000"/>
<path d="M619 200h1v1h-1zM709 200h1v1h-1zM711 200h1v1h-1zM767 200h1v1h-1zM846 200h1v1h-1zM895 200h1v1h-1zM957 200h1v1h-1zM960 200h2v1h-2zM1029 200h3v1h-3zM73 448h1v1h-1zM257 448h2v1h-2zM624 183h1v1h-1zM698 183h1v1h-1zM732 183h1v1h-1zM751 183h1v1h-1zM596 259h1v1h-1zM1115 259h1v1h-1zM613 224h1v1h-1zM789 224h1v1h-1zM816 224h1v1h-1zM993 224h1v1h-1zM1003 224h1v1h-1zM1055 224h1v1h-1zM76 450h2v1h-2zM253 450h2v1h-2zM614 221h1v1h-1zM786 221h1v1h-1zM818 221h1v1h-1zM918 221h10v1h-10zM982 221h9v1h-9zM1007 221h1v1h-1zM1052 221h1v1h-1zM592 271h1v1h-1zM1124 271h1v1h-1zM108 477h2v1h-2zM141 477h2v1h-2zM576 322h1v1h-1zM1155 322h1v1h-1zM620 196h1v1h-1zM706 196h1v1h-1zM714 196h1v1h-1zM761 196h1v1h-1zM852 196h2v1h-2zM858 196h14v1h-14zM891 196h1v1h-1zM323 415h2v1h-2zM440 415h4v1h-4zM466 415h3v1h-3zM490 398h1v1h-1zM333 410h3v1h-3zM408 410h2v1h-2zM479 410h1v1h-1zM588 285h1v1h-1zM1135 285h1v1h-1zM87 462h1v1h-1zM172 462h4v1h-4zM186 462h3v1h-3zM226 462h5v1h-5zM88 463h1v1h-1zM168 463h4v1h-4zM189 463h37v1h-37zM616 214h1v1h-1zM780 214h1v1h-1zM827 214h2v1h-2zM912 214h1v1h-1zM943 214h2v1h-2zM975 214h1v1h-1zM1012 214h1v1h-1zM1047 214h1v1h-1zM345 405h2v1h-2zM392 405h4v1h-4zM485 405h1v1h-1zM593 267h1v1h-1zM1121 267h1v1h-1zM584 298h1v1h-1zM1142 298h1v1h-1zM618 204h1v1h-1zM771 204h1v1h-1zM842 204h1v1h-1zM900 204h1v1h-1zM954 204h1v1h-1zM966 204h1v1h-1zM1022 204h1v1h-1zM1039 204h1v1h-1zM319 417h2v1h-2zM450 417h14v1h-14zM583 302h1v1h-1zM1144 302h1v1h-1zM10 440h8v1h-8zM59 440h2v1h-2zM270 440h1v1h-1zM645 121h1v1h-1zM676 121h1v1h-1zM615 217h1v1h-1zM782 217h1v1h-1zM822 217h1v1h-1zM915 217h1v1h-1zM937 217h2v1h-2zM978 217h1v1h-1zM1010 217h1v1h-1zM1049 217h1v1h-1zM625 181h1v1h-1zM697 181h1v1h-1zM733 181h1v1h-1zM738 181h13v1h-13zM625 180h1v1h-1zM697 180h1v1h-1zM734 180h4v1h-4zM615 218h1v1h-1zM783 218h1v1h-1zM821 218h1v1h-1zM916 218h1v1h-1zM935 218h2v1h-2zM979 218h1v1h-1zM1009 218h1v1h-1zM1050 218h1v1h-1zM84 459h1v1h-1zM235 459h2v1h-2zM612 227h1v1h-1zM799 227h1v1h-1zM812 227h2v1h-2zM997 227h1v1h-1zM999 227h1v1h-1zM1058 227h2v1h-2zM349 403h5v1h-5zM386 403h3v1h-3zM487 403h1v1h-1zM614 223h1v1h-1zM788 223h1v1h-1zM817 223h1v1h-1zM992 223h1v1h-1zM1004 223h2v1h-2zM1054 223h1v1h-1zM640 137h1v1h-1zM683 137h1v1h-1zM620 197h1v1h-1zM707 197h1v1h-1zM714 197h1v1h-1zM762 197h2v1h-2zM850 197h2v1h-2zM892 197h1v1h-1zM338 408h3v1h-3zM402 408h3v1h-3zM481 408h1v1h-1zM360 401h4v1h-4zM378 401h6v1h-6zM488 401h1v1h-1zM80 453h1v1h-1zM247 453h2v1h-2zM327 413h2v1h-2zM426 413h8v1h-8zM472 413h2v1h-2zM325 414h2v1h-2zM434 414h6v1h-6zM469 414h3v1h-3zM638 143h1v1h-1zM686 143h1v1h-1zM61 441h2v1h-2zM268 441h2v1h-2zM596 261h1v1h-1zM1116 261h1v1h-1zM32 437h4v1h-4zM53 437h2v1h-2zM275 437h2v1h-2zM105 475h1v1h-1zM144 475h2v1h-2zM329 412h2v1h-2zM413 412h13v1h-13zM474 412h3v1h-3zM575 324h1v1h-1zM1156 324h1v1h-1zM562 354h1v1h-1zM1173 354h1v1h-1zM648 113h1v1h-1zM672 113h1v1h-1zM524 377h6v1h-6zM538 377h6v1h-6zM615 216h1v1h-1zM781 216h1v1h-1zM823 216h2v1h-2zM914 216h1v1h-1zM939 216h2v1h-2zM977 216h1v1h-1zM1011 216h1v1h-1zM1048 216h1v1h-1zM80 454h1v1h-1zM245 454h2v1h-2zM653 103h1v1h-1zM661 103h2v1h-2zM627 172h1v1h-1zM693 172h1v1h-1zM503 385h2v1h-2zM623 186h1v1h-1zM700 186h1v1h-1zM729 186h1v1h-1zM753 186h1v1h-1zM591 273h1v1h-1zM1126 273h1v1h-1zM582 304h1v1h-1zM1145 304h1v1h-1zM90 465h2v1h-2zM163 465h2v1h-2zM623 187h1v1h-1zM700 187h1v1h-1zM728 187h1v1h-1zM754 187h1v1h-1zM621 192h1v1h-1zM703 192h1v1h-1zM718 192h2v1h-2zM757 192h1v1h-1zM880 192h4v1h-4zM887 192h1v1h-1zM621 195h1v1h-1zM705 195h1v1h-1zM715 195h1v1h-1zM759 195h2v1h-2zM854 195h4v1h-4zM872 195h2v1h-2zM890 195h1v1h-1zM93 467h1v1h-1zM159 467h2v1h-2zM642 129h1v1h-1zM679 129h1v1h-1zM619 202h1v1h-1zM769 202h1v1h-1zM844 202h1v1h-1zM897 202h1v1h-1zM955 202h1v1h-1zM963 202h1v1h-1zM1025 202h2v1h-2zM1034 202h3v1h-3zM616 215h1v1h-1zM780 215h1v1h-1zM825 215h2v1h-2zM913 215h1v1h-1zM941 215h2v1h-2zM976 215h1v1h-1zM1012 215h1v1h-1zM1048 215h1v1h-1zM579 312h1v1h-1zM1150 312h1v1h-1zM44 434h4v1h-4zM282 434h3v1h-3zM6 439h4v1h-4zM18 439h8v1h-8zM57 439h2v1h-2zM271 439h2v1h-2zM637 145h1v1h-1zM686 145h1v1h-1zM587 288h1v1h-1zM1136 288h1v1h-1zM633 156h1v1h-1zM689 156h1v1h-1zM620 199h1v1h-1zM708 199h1v1h-1zM712 199h1v1h-1zM766 199h1v1h-1zM847 199h2v1h-2zM894 199h1v1h-1zM957 199h1v1h-1zM959 199h1v1h-1zM586 292h1v1h-1zM1139 292h1v1h-1zM615 219h1v1h-1zM784 219h1v1h-1zM820 219h1v1h-1zM916 219h1v1h-1zM932 219h3v1h-3zM980 219h1v1h-1zM1008 219h1v1h-1zM1051 219h1v1h-1zM301 425h3v1h-3zM568 340h1v1h-1zM1163 340h1v1h-1zM629 166h1v1h-1zM692 166h1v1h-1zM354 402h6v1h-6zM384 402h2v1h-2zM487 402h1v1h-1zM617 210h1v1h-1zM776 210h1v1h-1zM835 210h2v1h-2zM908 210h2v1h-2zM950 210h1v1h-1zM971 210h1v1h-1zM1016 210h1v1h-1zM1044 210h1v1h-1zM644 125h1v1h-1zM678 125h1v1h-1zM618 206h1v1h-1zM773 206h1v1h-1zM841 206h1v1h-1zM902 206h1v1h-1zM953 206h1v1h-1zM968 206h1v1h-1zM1020 206h1v1h-1zM1040 206h1v1h-1zM81 455h1v1h-1zM243 455h2v1h-2zM573 330h1v1h-1zM1159 330h1v1h-1zM607 243h1v1h-1zM1104 243h1v1h-1zM610 234h1v1h-1zM1069 234h3v1h-3zM1096 234h1v1h-1zM602 250h1v1h-1zM1108 250h1v1h-1zM321 416h2v1h-2zM444 416h6v1h-6zM464 416h2v1h-2zM113 480h2v1h-2zM132 480h4v1h-4zM590 275h1v1h-1zM1127 275h1v1h-1zM70 446h1v1h-1zM261 446h2v1h-2zM95 469h2v1h-2zM154 469h3v1h-3zM614 220h1v1h-1zM785 220h1v1h-1zM819 220h1v1h-1zM917 220h1v1h-1zM928 220h4v1h-4zM981 220h1v1h-1zM1008 220h1v1h-1zM1052 220h1v1h-1zM608 238h1v1h-1zM1100 238h1v1h-1zM598 256h1v1h-1zM1112 256h1v1h-1zM606 244h1v1h-1zM1104 244h1v1h-1zM618 207h1v1h-1zM774 207h1v1h-1zM840 207h1v1h-1zM903 207h2v1h-2zM952 207h1v1h-1zM969 207h1v1h-1zM1019 207h1v1h-1zM1041 207h1v1h-1zM83 457h1v1h-1zM239 457h2v1h-2zM364 400h14v1h-14zM489 400h1v1h-1zM585 295h1v1h-1zM1140 295h1v1h-1zM71 447h2v1h-2zM259 447h2v1h-2zM84 458h1v1h-1zM237 458h2v1h-2zM622 190h1v1h-1zM702 190h1v1h-1zM724 190h3v1h-3zM756 190h1v1h-1zM650 109h1v1h-1zM670 109h1v1h-1zM510 381h2v1h-2zM336 409h2v1h-2zM405 409h3v1h-3zM480 409h1v1h-1zM624 184h1v1h-1zM699 184h1v1h-1zM731 184h1v1h-1zM752 184h1v1h-1zM622 189h1v1h-1zM701 189h1v1h-1zM727 189h1v1h-1zM755 189h1v1h-1zM628 169h1v1h-1zM692 169h1v1h-1zM613 226h1v1h-1zM794 226h5v1h-5zM814 226h1v1h-1zM996 226h1v1h-1zM1000 226h2v1h-2zM1057 226h1v1h-1zM589 278h1v1h-1zM1130 278h1v1h-1zM643 126h1v1h-1zM678 126h1v1h-1zM623 185h1v1h-1zM699 185h1v1h-1zM730 185h1v1h-1zM752 185h1v1h-1zM624 182h1v1h-1zM698 182h1v1h-1zM732 182h1v1h-1zM751 182h1v1h-1zM577 320h1v1h-1zM1154 320h1v1h-1zM647 116h1v1h-1zM673 116h1v1h-1zM576 321h1v1h-1zM1155 321h1v1h-1zM552 372h1v1h-1zM634 153h1v1h-1zM688 153h1v1h-1zM626 178h1v1h-1zM696 178h1v1h-1zM567 343h1v1h-1zM1165 343h1v1h-1zM100 472h2v1h-2zM148 472h2v1h-2zM584 297h1v1h-1zM1141 297h1v1h-1zM36 436h4v1h-4zM50 436h3v1h-3zM277 436h3v1h-3zM634 154h1v1h-1zM689 154h1v1h-1zM651 106h1v1h-1zM666 106h1v1h-1zM653 102h1v1h-1zM658 102h3v1h-3zM347 404h2v1h-2zM389 404h3v1h-3zM486 404h1v1h-1zM617 209h1v1h-1zM776 209h1v1h-1zM837 209h2v1h-2zM906 209h2v1h-2zM951 209h1v1h-1zM970 209h1v1h-1zM1017 209h1v1h-1zM1043 209h1v1h-1zM291 430h2v1h-2zM581 307h1v1h-1zM1147 307h1v1h-1zM86 461h1v1h-1zM176 461h4v1h-4zM184 461h2v1h-2zM231 461h2v1h-2zM621 194h1v1h-1zM704 194h1v1h-1zM716 194h1v1h-1zM758 194h1v1h-1zM874 194h3v1h-3zM889 194h1v1h-1zM74 449h2v1h-2zM255 449h2v1h-2zM638 142h1v1h-1zM685 142h1v1h-1zM604 247h1v1h-1zM1106 247h1v1h-1zM311 421h2v1h-2zM494 393h1v1h-1zM646 118h1v1h-1zM674 118h1v1h-1zM594 266h1v1h-1zM1120 266h1v1h-1zM575 323h1v1h-1zM1156 323h1v1h-1zM609 236h1v1h-1zM1098 236h1v1h-1zM564 350h1v1h-1zM1170 350h1v1h-1zM628 171h1v1h-1zM693 171h1v1h-1zM593 269h1v1h-1zM1123 269h1v1h-1zM610 233h1v1h-1zM1067 233h2v1h-2zM1072 233h4v1h-4zM1095 233h1v1h-1zM585 293h1v1h-1zM1139 293h1v1h-1zM572 331h1v1h-1zM1159 331h1v1h-1zM643 128h1v1h-1zM679 128h1v1h-1zM619 203h1v1h-1zM770 203h1v1h-1zM843 203h1v1h-1zM898 203h2v1h-2zM955 203h1v1h-1zM964 203h2v1h-2zM1023 203h2v1h-2zM1037 203h2v1h-2zM613 225h1v1h-1zM790 225h4v1h-4zM815 225h1v1h-1zM994 225h2v1h-2zM1002 225h1v1h-1zM1056 225h1v1h-1zM621 193h1v1h-1zM704 193h1v1h-1zM717 193h1v1h-1zM757 193h1v1h-1zM877 193h3v1h-3zM888 193h1v1h-1zM622 188h1v1h-1zM701 188h1v1h-1zM728 188h1v1h-1zM754 188h1v1h-1zM637 144h1v1h-1zM686 144h1v1h-1zM587 287h1v1h-1zM1136 287h1v1h-1zM117 482h11v1h-11zM569 339h1v1h-1zM1163 339h1v1h-1zM92 466h1v1h-1zM161 466h2v1h-2zM607 242h1v1h-1zM1103 242h1v1h-1zM562 356h1v1h-1zM620 198h1v1h-1zM708 198h1v1h-1zM713 198h1v1h-1zM764 198h2v1h-2zM849 198h1v1h-1zM893 198h1v1h-1zM958 198h1v1h-1zM581 309h1v1h-1zM1148 309h1v1h-1zM582 306h1v1h-1zM1147 306h1v1h-1zM583 303h1v1h-1zM1145 303h1v1h-1zM580 310h1v1h-1zM1149 310h1v1h-1zM97 470h1v1h-1zM152 470h2v1h-2zM614 222h1v1h-1zM787 222h1v1h-1zM818 222h1v1h-1zM991 222h1v1h-1zM1006 222h1v1h-1zM1053 222h1v1h-1zM628 170h1v1h-1zM693 170h1v1h-1zM579 314h1v1h-1zM1151 314h1v1h-1zM603 249h1v1h-1zM1108 249h1v1h-1zM595 264h1v1h-1zM1119 264h1v1h-1zM65 443h1v1h-1zM266 443h1v1h-1zM622 191h1v1h-1zM702 191h1v1h-1zM720 191h4v1h-4zM756 191h1v1h-1zM884 191h3v1h-3zM606 245h1v1h-1zM1105 245h1v1h-1zM629 168h1v1h-1zM692 168h1v1h-1zM586 289h1v1h-1zM1137 289h1v1h-1zM561 358h1v1h-1zM616 212h1v1h-1zM778 212h1v1h-1zM831 212h2v1h-2zM911 212h1v1h-1zM946 212h2v1h-2zM973 212h1v1h-1zM1014 212h1v1h-1zM1045 212h1v1h-1zM590 277h1v1h-1zM1129 277h1v1h-1zM496 391h1v1h-1zM85 460h1v1h-1zM180 460h4v1h-4zM233 460h2v1h-2zM627 173h1v1h-1zM693 173h1v1h-1zM491 397h1v1h-1zM94 468h1v1h-1zM157 468h2v1h-2zM611 232h1v1h-1zM806 232h1v1h-1zM1065 232h2v1h-2zM1076 232h3v1h-3zM1093 232h2v1h-2zM649 112h1v1h-1zM671 112h1v1h-1zM40 435h4v1h-4zM48 435h2v1h-2zM280 435h2v1h-2zM646 117h1v1h-1zM674 117h1v1h-1zM631 161h1v1h-1zM690 161h1v1h-1zM287 432h2v1h-2zM589 280h1v1h-1zM1131 280h1v1h-1zM556 368h1v1h-1zM115 481h2v1h-2zM128 481h4v1h-4zM609 235h1v1h-1zM1097 235h1v1h-1zM306 423h3v1h-3zM564 349h1v1h-1zM1169 349h1v1h-1zM611 230h1v1h-1zM803 230h1v1h-1zM808 230h2v1h-2zM1062 230h1v1h-1zM1081 230h2v1h-2zM1089 230h2v1h-2zM89 464h1v1h-1zM165 464h3v1h-3zM490 399h1v1h-1zM592 272h1v1h-1zM1125 272h1v1h-1zM593 268h1v1h-1zM1122 268h1v1h-1zM584 299h1v1h-1zM1143 299h1v1h-1zM106 476h2v1h-2zM143 476h1v1h-1zM331 411h2v1h-2zM410 411h3v1h-3zM477 411h2v1h-2zM612 229h1v1h-1zM802 229h1v1h-1zM810 229h1v1h-1zM1061 229h1v1h-1zM1083 229h2v1h-2zM1087 229h2v1h-2zM502 386h1v1h-1zM630 163h1v1h-1zM691 163h1v1h-1zM309 422h2v1h-2zM617 208h1v1h-1zM775 208h1v1h-1zM839 208h1v1h-1zM905 208h1v1h-1zM951 208h1v1h-1zM970 208h1v1h-1zM1018 208h1v1h-1zM1042 208h1v1h-1zM111 479h2v1h-2zM136 479h2v1h-2zM611 231h1v1h-1zM804 231h2v1h-2zM807 231h1v1h-1zM1063 231h2v1h-2zM1079 231h2v1h-2zM1091 231h2v1h-2zM575 325h1v1h-1zM1157 325h1v1h-1zM26 438h6v1h-6zM55 438h2v1h-2zM273 438h2v1h-2zM617 211h1v1h-1zM777 211h1v1h-1zM833 211h2v1h-2zM910 211h1v1h-1zM948 211h2v1h-2zM972 211h1v1h-1zM1015 211h1v1h-1zM1044 211h1v1h-1zM648 114h1v1h-1zM672 114h1v1h-1zM299 426h2v1h-2zM650 108h1v1h-1zM668 108h2v1h-2zM592 270h1v1h-1zM1124 270h1v1h-1zM295 428h2v1h-2zM654 101h1v1h-1zM656 101h2v1h-2zM642 131h1v1h-1zM680 131h1v1h-1zM579 313h1v1h-1zM1151 313h1v1h-1zM574 326h1v1h-1zM1157 326h1v1h-1zM633 157h1v1h-1zM689 157h1v1h-1zM98 471h2v1h-2zM150 471h2v1h-2zM637 146h1v1h-1zM687 146h1v1h-1zM512 380h4v1h-4zM578 315h1v1h-1zM1152 315h1v1h-1zM78 451h1v1h-1zM251 451h2v1h-2zM649 111h1v1h-1zM671 111h1v1h-1zM341 407h2v1h-2zM400 407h2v1h-2zM482 407h2v1h-2zM343 406h2v1h-2zM396 406h4v1h-4zM484 406h1v1h-1zM643 127h1v1h-1zM678 127h1v1h-1zM289 431h2v1h-2zM640 136h1v1h-1zM682 136h1v1h-1zM495 392h1v1h-1zM574 327h1v1h-1zM1158 327h1v1h-1zM552 373h1v1h-1zM566 344h1v1h-1zM1165 344h1v1h-1zM618 205h1v1h-1zM772 205h1v1h-1zM842 205h1v1h-1zM901 205h1v1h-1zM953 205h1v1h-1zM967 205h1v1h-1zM1021 205h1v1h-1zM1040 205h1v1h-1zM619 201h1v1h-1zM710 201h1v1h-1zM768 201h1v1h-1zM845 201h1v1h-1zM896 201h1v1h-1zM956 201h1v1h-1zM962 201h1v1h-1zM1027 201h2v1h-2zM1032 201h2v1h-2zM639 139h1v1h-1zM684 139h1v1h-1zM103 474h2v1h-2zM146 474h1v1h-1zM516 379h4v1h-4zM646 119h1v1h-1zM675 119h1v1h-1zM616 213h1v1h-1zM779 213h1v1h-1zM829 213h2v1h-2zM912 213h1v1h-1zM945 213h1v1h-1zM974 213h1v1h-1zM1013 213h1v1h-1zM1046 213h1v1h-1zM609 237h1v1h-1zM1099 237h1v1h-1zM564 351h1v1h-1zM1170 351h1v1h-1zM631 162h1v1h-1zM691 162h1v1h-1zM654 100h2v1h-2zM82 456h1v1h-1zM241 456h2v1h-2zM572 332h1v1h-1zM1160 332h1v1h-1zM66 444h2v1h-2zM264 444h2v1h-2zM642 130h1v1h-1zM680 130h1v1h-1zM630 165h1v1h-1zM691 165h1v1h-1zM520 378h4v1h-4zM530 378h8v1h-8zM591 274h1v1h-1zM1127 274h1v1h-1zM568 341h1v1h-1zM1164 341h1v1h-1zM608 239h1v1h-1zM1101 239h1v1h-1zM563 353h1v1h-1zM1172 353h1v1h-1zM508 382h2v1h-2zM297 427h2v1h-2zM317 418h2v1h-2zM580 311h1v1h-1zM1149 311h1v1h-1zM571 334h1v1h-1zM1161 334h1v1h-1zM578 317h1v1h-1zM1153 317h1v1h-1zM600 253h1v1h-1zM1110 253h1v1h-1zM629 167h1v1h-1zM692 167h1v1h-1zM650 110h1v1h-1zM670 110h1v1h-1zM601 251h1v1h-1zM1109 251h1v1h-1zM632 159h1v1h-1zM690 159h1v1h-1zM586 290h1v1h-1zM1137 290h1v1h-1zM586 291h1v1h-1zM1138 291h1v1h-1zM633 155h1v1h-1zM689 155h1v1h-1zM584 296h1v1h-1zM1141 296h1v1h-1zM612 228h1v1h-1zM800 228h2v1h-2zM811 228h1v1h-1zM998 228h1v1h-1zM1060 228h1v1h-1zM1085 228h2v1h-2zM640 135h1v1h-1zM682 135h1v1h-1zM570 336h1v1h-1zM1162 336h1v1h-1zM557 366h1v1h-1zM285 433h2v1h-2zM627 174h1v1h-1zM694 174h1v1h-1zM79 452h1v1h-1zM249 452h2v1h-2zM304 424h2v1h-2zM102 473h1v1h-1zM147 473h1v1h-1zM548 375h3v1h-3zM595 262h1v1h-1zM1117 262h1v1h-1zM589 281h1v1h-1zM1132 281h1v1h-1zM639 138h1v1h-1zM683 138h1v1h-1zM604 248h1v1h-1zM1107 248h1v1h-1zM573 329h1v1h-1zM1158 329h1v1h-1zM599 254h1v1h-1zM1111 254h1v1h-1zM577 319h1v1h-1zM1154 319h1v1h-1zM585 294h1v1h-1zM1140 294h1v1h-1zM630 164h1v1h-1zM691 164h1v1h-1zM581 308h1v1h-1zM1148 308h1v1h-1zM563 352h1v1h-1zM1171 352h1v1h-1zM647 115h1v1h-1zM673 115h1v1h-1zM571 333h1v1h-1zM1160 333h1v1h-1zM605 246h1v1h-1zM1106 246h1v1h-1zM560 360h1v1h-1zM600 252h1v1h-1zM1109 252h1v1h-1zM636 148h1v1h-1zM687 148h1v1h-1zM63 442h2v1h-2zM267 442h1v1h-1zM632 158h1v1h-1zM690 158h1v1h-1zM570 335h1v1h-1zM1161 335h1v1h-1zM559 362h1v1h-1zM578 316h1v1h-1zM1152 316h1v1h-1zM555 369h1v1h-1zM493 394h1v1h-1zM562 355h1v1h-1zM1174 355h1v1h-1zM583 300h1v1h-1zM1143 300h1v1h-1zM641 134h1v1h-1zM682 134h1v1h-1zM574 328h1v1h-1zM1158 328h1v1h-1zM577 318h1v1h-1zM1153 318h1v1h-1zM492 396h1v1h-1zM566 345h1v1h-1zM1166 345h1v1h-1zM589 279h1v1h-1zM1130 279h1v1h-1zM110 478h1v1h-1zM138 478h3v1h-3zM498 389h2v1h-2zM639 140h1v1h-1zM684 140h1v1h-1zM560 359h1v1h-1zM641 132h1v1h-1zM681 132h1v1h-1zM315 419h2v1h-2zM636 147h1v1h-1zM687 147h1v1h-1zM567 342h1v1h-1zM1164 342h1v1h-1zM565 347h1v1h-1zM1167 347h1v1h-1zM590 276h1v1h-1zM1128 276h1v1h-1zM608 240h1v1h-1zM1102 240h1v1h-1zM565 348h1v1h-1zM1168 348h1v1h-1zM544 376h4v1h-4zM631 160h1v1h-1zM690 160h1v1h-1zM501 387h1v1h-1zM570 337h1v1h-1zM1162 337h1v1h-1zM554 370h1v1h-1zM595 263h1v1h-1zM1118 263h1v1h-1zM645 120h1v1h-1zM675 120h1v1h-1zM588 284h1v1h-1zM1134 284h1v1h-1zM625 179h1v1h-1zM696 179h1v1h-1zM598 255h1v1h-1zM1112 255h1v1h-1zM594 265h1v1h-1zM1120 265h1v1h-1zM583 301h1v1h-1zM1144 301h1v1h-1zM652 104h1v1h-1zM663 104h1v1h-1zM607 241h1v1h-1zM1103 241h1v1h-1zM635 149h1v1h-1zM687 149h1v1h-1zM644 123h1v1h-1zM677 123h1v1h-1zM560 361h1v1h-1zM626 175h1v1h-1zM694 175h1v1h-1zM626 176h1v1h-1zM695 176h1v1h-1zM313 420h2v1h-2zM597 257h1v1h-1zM1113 257h1v1h-1zM635 150h1v1h-1zM688 150h1v1h-1zM597 258h1v1h-1zM1114 258h1v1h-1zM559 363h1v1h-1zM588 282h1v1h-1zM1133 282h1v1h-1zM493 395h1v1h-1zM652 105h1v1h-1zM664 105h2v1h-2zM500 388h1v1h-1zM558 365h1v1h-1zM566 346h1v1h-1zM1166 346h1v1h-1zM596 260h1v1h-1zM1116 260h1v1h-1zM645 122h1v1h-1zM676 122h1v1h-1zM293 429h2v1h-2zM68 445h2v1h-2zM263 445h1v1h-1zM569 338h1v1h-1zM1162 338h1v1h-1zM506 383h2v1h-2zM644 124h1v1h-1zM677 124h1v1h-1zM641 133h1v1h-1zM681 133h1v1h-1zM635 151h1v1h-1zM688 151h1v1h-1zM588 283h1v1h-1zM1133 283h1v1h-1zM634 152h1v1h-1zM688 152h1v1h-1zM626 177h1v1h-1zM695 177h1v1h-1zM558 364h1v1h-1zM582 305h1v1h-1zM1146 305h1v1h-1zM497 390h1v1h-1zM638 141h1v1h-1zM685 141h1v1h-1zM551 374h1v1h-1zM587 286h1v1h-1zM1135 286h1v1h-1zM505 384h1v1h-1zM651 107h1v1h-1zM667 107h1v1h-1zM561 357h1v1h-1zM553 371h1v1h-1zM556 367h1v1h-1z" fill="#ffa500"/>
<rect x="6" y="48" width="1484" height="2" fill="#ff0000"/>
<rect x="5" y="46" width="6" height="6" fill="#ff0000"/><rect x="7" y="48" width="2" height="2" fill="#fff"/>
<rect x="1484" y="46" width="6" height="6" fill="#ff0000"/><rect x="1486" y="48" width="2" height="2" fill="#fff"/>
<rect x="6" y="122" width="1484" height="2" fill="#ff0000"/>
<rect x="5" y="120" width="6" height="6" fill="#ff0000"/><rect x="7" y="122" width="2" height="2" fill="#fff"/>
<rect x="1484" y="120" width="6" height="6" fill="#ff0000"/><rect x="1486" y="122" width="2" height="2" fill="#fff"/>
<rect x="6" y="193" width="1484" height="2" fill="#ff0000"/>
<rect x="5" y="191" width="6" height="6" fill="#ff0000"/><rect x="7" y="193" width="2" height="2" fill="#fff"/>
<rect x="1484" y="191" width="6" height="6" fill="#ff0000"/><rect x="1486" y="193" width="2" height="2" fill="#fff"/>
<rect x="6" y="259" width="1484" height="2" fill="#00ff00"/>
<rect x="5" y="257" width="6" height="6" fill="#00ff00"/><rect x="7" y="259" width="2" height="2" fill="#fff"/>
<rect x="1484" y="257" width="6" height="6" fill="#00ff00"/><rect x="1486" y="259" width="2" height="2" fill="#fff"/>
<rect x="6" y="321" width="1484" height="2" fill="#0000ff"/>
<rect x="5" y="319" width="6" height="6" fill="#0000ff"/><rect x="7" y="321" width="2" height="2" fill="#fff"/>
<rect x="1484" y="319" width="6" height="6" fill="#0000ff"/><rect x="1486" y="321" width="2" height="2" fill="#fff"/>
<rect x="6" y="398" width="1484" height="2" fill="#0000ff"/>
<rect x="5" y="396" width="6" height="6" fill="#0000ff"/><rect x="7" y="398" width="2" height="2" fill="#fff"/>
<rect x="1484" y="396" width="6" height="6" fill="#0000ff"/><rect x="1486" y="398" width="2" height="2" fill="#fff"/>
<polygon points="1187,26 1196,26 1191.5,31" fill="#c0c0c0"/>
</g>
<rect x="1484" y="46" width="6" height="6" fill="#ff0000"/><rect x="1486" y="48" width="2" height="2" fill="#fff"/>
<rect x="5" y="46" width="6" height="6" fill="#ff0000"/><rect x="7" y="48" width="2" height="2" fill="#fff"/>
<rect x="1484" y="120" width="6" height="6" fill="#ff0000"/><rect x="1486" y="122" width="2" height="2" fill="#fff"/>
<rect x="5" y="120" width="6" height="6" fill="#ff0000"/><rect x="7" y="122" width="2" height="2" fill="#fff"/>
<rect x="1484" y="191" width="6" height="6" fill="#ff0000"/><rect x="1486" y="193" width="2" height="2" fill="#fff"/>
<rect x="5" y="191" width="6" height="6" fill="#ff0000"/><rect x="7" y="193" width="2" height="2" fill="#fff"/>
<rect x="1484" y="257" width="6" height="6" fill="#00ff00"/><rect x="1486" y="259" width="2" height="2" fill="#fff"/>
<rect x="5" y="257" width="6" height="6" fill="#00ff00"/><rect x="7" y="259" width="2" height="2" fill="#fff"/>
<rect x="1484" y="319" width="6" height="6" fill="#0000ff"/><rect x="1486" y="321" width="2" height="2" fill="#fff"/>
<rect x="5" y="319" width="6" height="6" fill="#0000ff"/><rect x="7" y="321" width="2" height="2" fill="#fff"/>
<rect x="1484" y="396" width="6" height="6" fill="#0000ff"/><rect x="1486" y="398" width="2" height="2" fill="#fff"/>
<rect x="5" y="396" width="6" height="6" fill="#0000ff"/><rect x="7" y="398" width="2" height="2" fill="#fff"/>
<g clip-path="url(#cr)">
<line x1="6" y1="530.5" x2="1490" y2="530.5" stroke="#c0c0c0" stroke-width="1" stroke-dasharray="3 3" stroke-dashoffset="-1" shape-rendering="crispEdges"/>
<line x1="6" y1="564.5" x2="1490" y2="564.5" stroke="#c0c0c0" stroke-width="1" stroke-dasharray="3 3" stroke-dashoffset="-1" shape-rendering="crispEdges"/>
<path d="M322 525h8v1h-8zM368 525h1v1h-1zM492 525h2v1h-2zM495 525h2v1h-2zM558 525h1v1h-1zM661 525h2v1h-2zM364 522h3v1h-3zM561 522h1v1h-1zM597 522h1v1h-1zM600 522h4v1h-4zM635 522h1v1h-1zM648 522h4v1h-4zM655 522h2v1h-2zM245 537h3v1h-3zM263 537h2v1h-2zM382 537h2v1h-2zM468 537h4v1h-4zM515 537h1v1h-1zM522 537h1v1h-1zM673 537h1v1h-1zM238 540h2v1h-2zM404 540h4v1h-4zM421 540h2v1h-2zM461 540h1v1h-1zM518 540h1v1h-1zM675 540h1v1h-1zM716 540h4v1h-4zM854 540h2v1h-2zM149 547h1v1h-1zM151 547h1v1h-1zM231 547h1v1h-1zM444 547h4v1h-4zM456 547h1v1h-1zM693 547h2v1h-2zM755 547h1v1h-1zM764 547h4v1h-4zM810 547h1v1h-1zM834 547h6v1h-6zM868 547h2v1h-2zM872 547h2v1h-2zM892 547h4v1h-4zM923 547h1v1h-1zM946 547h3v1h-3zM951 547h1v1h-1zM963 547h1v1h-1zM989 547h5v1h-5zM999 547h2v1h-2zM1033 547h1v1h-1zM1067 547h2v1h-2zM1072 547h4v1h-4zM147 549h1v1h-1zM154 549h1v1h-1zM180 549h4v1h-4zM205 549h5v1h-5zM216 549h4v1h-4zM224 549h4v1h-4zM450 549h3v1h-3zM455 549h1v1h-1zM758 549h2v1h-2zM772 549h22v1h-22zM809 549h1v1h-1zM898 549h3v1h-3zM922 549h1v1h-1zM965 549h1v1h-1zM985 549h2v1h-2zM1036 549h1v1h-1zM1063 549h2v1h-2zM1082 549h5v1h-5zM146 550h1v1h-1zM155 550h1v1h-1zM164 550h6v1h-6zM176 550h4v1h-4zM184 550h2v1h-2zM202 550h3v1h-3zM220 550h4v1h-4zM453 550h2v1h-2zM794 550h6v1h-6zM808 550h1v1h-1zM901 550h3v1h-3zM921 550h1v1h-1zM966 550h2v1h-2zM983 550h2v1h-2zM1037 550h1v1h-1zM1060 550h3v1h-3zM1087 550h1v1h-1zM242 538h3v1h-3zM248 538h4v1h-4zM258 538h5v1h-5zM384 538h4v1h-4zM394 538h6v1h-6zM464 538h4v1h-4zM516 538h1v1h-1zM520 538h2v1h-2zM674 538h1v1h-1zM72 564h4v1h-4zM129 564h1v1h-1zM1136 564h4v1h-4zM1156 564h4v1h-4zM338 523h16v1h-16zM360 523h4v1h-4zM367 523h1v1h-1zM560 523h1v1h-1zM598 523h2v1h-2zM636 523h2v1h-2zM642 523h6v1h-6zM657 523h2v1h-2zM564 519h1v1h-1zM569 519h2v1h-2zM578 519h3v1h-3zM593 519h1v1h-1zM610 519h3v1h-3zM631 519h1v1h-1zM6 560h1v1h-1zM56 560h2v1h-2zM132 560h1v1h-1zM1130 560h2v1h-2zM234 544h1v1h-1zM428 544h2v1h-2zM458 544h1v1h-1zM678 544h4v1h-4zM687 544h2v1h-2zM698 544h1v1h-1zM751 544h1v1h-1zM813 544h1v1h-1zM825 544h2v1h-2zM847 544h2v1h-2zM863 544h2v1h-2zM926 544h4v1h-4zM955 544h1v1h-1zM960 544h1v1h-1zM1005 544h26v1h-26zM14 553h4v1h-4zM32 553h2v1h-2zM42 553h3v1h-3zM47 553h1v1h-1zM144 553h1v1h-1zM914 553h5v1h-5zM1042 553h3v1h-3zM1048 553h4v1h-4zM1090 553h2v1h-2zM330 524h8v1h-8zM354 524h6v1h-6zM368 524h1v1h-1zM494 524h1v1h-1zM559 524h1v1h-1zM638 524h4v1h-4zM659 524h2v1h-2zM619 515h2v1h-2zM623 515h2v1h-2zM282 532h3v1h-3zM374 532h1v1h-1zM482 532h1v1h-1zM511 532h1v1h-1zM538 532h3v1h-3zM546 532h5v1h-5zM670 532h1v1h-1zM148 548h1v1h-1zM152 548h2v1h-2zM210 548h6v1h-6zM228 548h3v1h-3zM448 548h2v1h-2zM455 548h1v1h-1zM756 548h2v1h-2zM760 548h4v1h-4zM768 548h4v1h-4zM810 548h1v1h-1zM870 548h2v1h-2zM896 548h2v1h-2zM922 548h1v1h-1zM949 548h2v1h-2zM964 548h1v1h-1zM987 548h2v1h-2zM994 548h5v1h-5zM1034 548h2v1h-2zM1065 548h2v1h-2zM1076 548h6v1h-6zM233 545h1v1h-1zM430 545h10v1h-10zM458 545h1v1h-1zM689 545h2v1h-2zM696 545h2v1h-2zM752 545h2v1h-2zM812 545h1v1h-1zM827 545h2v1h-2zM844 545h3v1h-3zM865 545h1v1h-1zM877 545h11v1h-11zM925 545h1v1h-1zM930 545h14v1h-14zM954 545h1v1h-1zM961 545h1v1h-1zM1003 545h2v1h-2zM1031 545h1v1h-1zM13 554h1v1h-1zM34 554h3v1h-3zM40 554h2v1h-2zM48 554h1v1h-1zM143 554h1v1h-1zM1045 554h3v1h-3zM1092 554h1v1h-1zM237 541h1v1h-1zM408 541h2v1h-2zM418 541h3v1h-3zM423 541h2v1h-2zM461 541h1v1h-1zM676 541h1v1h-1zM702 541h4v1h-4zM712 541h4v1h-4zM720 541h2v1h-2zM852 541h2v1h-2zM856 541h2v1h-2zM312 528h2v1h-2zM371 528h1v1h-1zM487 528h2v1h-2zM501 528h3v1h-3zM554 528h2v1h-2zM665 528h1v1h-1zM235 543h1v1h-1zM413 543h3v1h-3zM426 543h2v1h-2zM459 543h1v1h-1zM677 543h1v1h-1zM682 543h5v1h-5zM699 543h1v1h-1zM725 543h13v1h-13zM746 543h5v1h-5zM814 543h4v1h-4zM823 543h2v1h-2zM849 543h1v1h-1zM861 543h2v1h-2zM956 543h2v1h-2zM959 543h1v1h-1zM79 566h1v1h-1zM114 566h8v1h-8zM127 566h1v1h-1zM1146 566h6v1h-6zM1162 566h3v1h-3zM1170 566h5v1h-5zM285 531h3v1h-3zM373 531h1v1h-1zM483 531h1v1h-1zM509 531h2v1h-2zM541 531h5v1h-5zM551 531h1v1h-1zM669 531h1v1h-1zM150 546h1v1h-1zM232 546h1v1h-1zM440 546h4v1h-4zM457 546h1v1h-1zM691 546h2v1h-2zM695 546h1v1h-1zM754 546h1v1h-1zM811 546h1v1h-1zM829 546h5v1h-5zM840 546h4v1h-4zM866 546h2v1h-2zM874 546h3v1h-3zM888 546h4v1h-4zM924 546h1v1h-1zM944 546h2v1h-2zM952 546h2v1h-2zM962 546h1v1h-1zM1001 546h2v1h-2zM1032 546h1v1h-1zM1069 546h3v1h-3zM265 536h2v1h-2zM380 536h2v1h-2zM472 536h4v1h-4zM514 536h1v1h-1zM523 536h1v1h-1zM673 536h1v1h-1zM240 539h2v1h-2zM252 539h6v1h-6zM388 539h6v1h-6zM400 539h4v1h-4zM462 539h2v1h-2zM517 539h1v1h-1zM519 539h1v1h-1zM675 539h1v1h-1zM146 551h1v1h-1zM156 551h2v1h-2zM160 551h4v1h-4zM170 551h6v1h-6zM186 551h3v1h-3zM200 551h2v1h-2zM800 551h4v1h-4zM807 551h1v1h-1zM904 551h4v1h-4zM920 551h1v1h-1zM968 551h4v1h-4zM978 551h5v1h-5zM1038 551h2v1h-2zM1056 551h4v1h-4zM1088 551h1v1h-1zM9 557h1v1h-1zM52 557h1v1h-1zM136 557h2v1h-2zM1098 557h8v1h-8zM1112 557h2v1h-2zM1127 557h1v1h-1zM18 552h14v1h-14zM45 552h2v1h-2zM145 552h1v1h-1zM158 552h2v1h-2zM189 552h11v1h-11zM804 552h3v1h-3zM908 552h6v1h-6zM919 552h1v1h-1zM972 552h6v1h-6zM1040 552h2v1h-2zM1052 552h4v1h-4zM1089 552h1v1h-1zM66 563h6v1h-6zM130 563h1v1h-1zM1134 563h2v1h-2zM563 520h1v1h-1zM571 520h2v1h-2zM576 520h2v1h-2zM594 520h2v1h-2zM608 520h2v1h-2zM632 520h2v1h-2zM588 516h3v1h-3zM617 516h2v1h-2zM625 516h2v1h-2zM236 542h1v1h-1zM410 542h3v1h-3zM416 542h2v1h-2zM425 542h1v1h-1zM460 542h1v1h-1zM677 542h1v1h-1zM700 542h2v1h-2zM706 542h6v1h-6zM722 542h3v1h-3zM738 542h8v1h-8zM818 542h5v1h-5zM850 542h2v1h-2zM858 542h3v1h-3zM958 542h1v1h-1zM76 565h3v1h-3zM128 565h1v1h-1zM1140 565h6v1h-6zM1152 565h4v1h-4zM1160 565h2v1h-2zM267 535h2v1h-2zM378 535h2v1h-2zM476 535h3v1h-3zM514 535h1v1h-1zM524 535h2v1h-2zM672 535h1v1h-1zM81 568h1v1h-1zM93 568h13v1h-13zM292 529h20v1h-20zM372 529h1v1h-1zM486 529h1v1h-1zM504 529h2v1h-2zM553 529h1v1h-1zM666 529h2v1h-2zM80 567h1v1h-1zM106 567h8v1h-8zM122 567h5v1h-5zM1165 567h5v1h-5zM7 559h1v1h-1zM54 559h2v1h-2zM133 559h1v1h-1zM1129 559h1v1h-1zM84 570h1v1h-1zM89 570h2v1h-2zM269 534h11v1h-11zM377 534h1v1h-1zM479 534h1v1h-1zM513 534h1v1h-1zM526 534h10v1h-10zM671 534h1v1h-1zM288 530h4v1h-4zM372 530h1v1h-1zM484 530h2v1h-2zM506 530h3v1h-3zM552 530h1v1h-1zM668 530h1v1h-1zM562 521h1v1h-1zM573 521h3v1h-3zM596 521h1v1h-1zM604 521h4v1h-4zM634 521h1v1h-1zM652 521h3v1h-3zM280 533h2v1h-2zM375 533h2v1h-2zM480 533h2v1h-2zM512 533h1v1h-1zM536 533h2v1h-2zM671 533h1v1h-1zM10 556h2v1h-2zM50 556h2v1h-2zM138 556h3v1h-3zM1094 556h4v1h-4zM1114 556h3v1h-3zM1122 556h5v1h-5zM314 527h3v1h-3zM370 527h1v1h-1zM489 527h1v1h-1zM499 527h2v1h-2zM556 527h1v1h-1zM664 527h1v1h-1zM566 517h1v1h-1zM584 517h4v1h-4zM591 517h1v1h-1zM615 517h2v1h-2zM627 517h2v1h-2zM58 561h3v1h-3zM131 561h1v1h-1zM1132 561h1v1h-1zM61 562h5v1h-5zM130 562h1v1h-1zM1133 562h1v1h-1zM12 555h1v1h-1zM37 555h3v1h-3zM49 555h1v1h-1zM141 555h2v1h-2zM1093 555h1v1h-1zM1117 555h5v1h-5zM317 526h5v1h-5zM369 526h1v1h-1zM490 526h2v1h-2zM497 526h2v1h-2zM557 526h1v1h-1zM663 526h1v1h-1zM8 558h1v1h-1zM53 558h1v1h-1zM134 558h2v1h-2zM1106 558h6v1h-6zM1128 558h1v1h-1zM565 518h1v1h-1zM567 518h2v1h-2zM581 518h3v1h-3zM592 518h1v1h-1zM613 518h2v1h-2zM629 518h2v1h-2zM621 514h2v1h-2zM85 571h1v1h-1zM87 571h2v1h-2zM82 569h2v1h-2zM91 569h2v1h-2zM86 572h1v1h-1z" fill="#1e90ff"/>
</g>
<g clip-path="url(#cd)">
<rect x="6" y="649" width="1" height="5" fill="#c0c0c0"/>
<rect x="14" y="649" width="1" height="5" fill="#c0c0c0"/>
<rect x="22" y="649" width="1" height="5" fill="#c0c0c0"/>
<rect x="30" y="649" width="1" height="5" fill="#c0c0c0"/>
<rect x="38" y="649" width="1" height="5" fill="#c0c0c0"/>
<rect x="46" y="649" width="1" height="4" fill="#c0c0c0"/>
<rect x="54" y="649" width="1" height="5" fill="#c0c0c0"/>
<rect x="62" y="649" width="1" height="6" fill="#c0c0c0"/>
<rect x="70" y="649" width="1" height="6" fill="#c0c0c0"/>
<rect x="78" y="649" width="1" height="7" fill="#c0c0c0"/>
<rect x="86" y="649" width="1" height="9" fill="#c0c0c0"/>
<rect x="94" y="649" width="1" height="10" fill="#c0c0c0"/>
<rect x="102" y="649" width="1" height="10" fill="#c0c0c0"/>
<rect x="110" y="649" width="1" height="11" fill="#c0c0c0"/>
<rect x="118" y="649" width="1" height="11" fill="#c0c0c0"/>
<rect x="126" y="649" width="1" height="11" fill="#c0c0c0"/>
<rect x="134" y="649" width="1" height="11" fill="#c0c0c0"/>
<rect x="142" y="649" width="1" height="10" fill="#c0c0c0"/>
<rect x="150" y="649" width="1" height="8" fill="#c0c0c0"/>
<rect x="158" y="649" width="1" height="8" fill="#c0c0c0"/>
<rect x="166" y="649" width="1" height="7" fill="#c0c0c0"/>
<rect x="174" y="649" width="1" height="6" fill="#c0c0c0"/>
<rect x="182" y="649" width="1" height="6" fill="#c0c0c0"/>
<rect x="190" y="649" width="1" height="6" fill="#c0c0c0"/>
<rect x="198" y="649" width="1" height="5" fill="#c0c0c0"/>
<rect x="206" y="649" width="1" height="5" fill="#c0c0c0"/>
<rect x="214" y="649" width="1" height="4" fill="#c0c0c0"/>
<rect x="222" y="649" width="1" height="4" fill="#c0c0c0"/>
<rect x="230" y="649" width="1" height="4" fill="#c0c0c0"/>
<rect x="238" y="649" width="1" height="3" fill="#c0c0c0"/>
<rect x="262" y="648" width="1" height="2" fill="#c0c0c0"/>
<rect x="270" y="647" width="1" height="3" fill="#c0c0c0"/>
<rect x="278" y="646" width="1" height="4" fill="#c0c0c0"/>
<rect x="286" y="645" width="1" height="5" fill="#c0c0c0"/>
<rect x="294" y="644" width="1" height="6" fill="#c0c0c0"/>
<rect x="302" y="643" width="1" height="7" fill="#c0c0c0"/>
<rect x="310" y="643" width="1" height="7" fill="#c0c0c0"/>
<rect x="318" y="642" width="1" height="8" fill="#c0c0c0"/>
<rect x="326" y="641" width="1" height="9" fill="#c0c0c0"/>
<rect x="334" y="641" width="1" height="9" fill="#c0c0c0"/>
<rect x="342" y="640" width="1" height="10" fill="#c0c0c0"/>
<rect x="350" y="640" width="1" height="10" fill="#c0c0c0"/>
<rect x="358" y="640" width="1" height="10" fill="#c0c0c0"/>
<rect x="366" y="640" width="1" height="10" fill="#c0c0c0"/>
<rect x="374" y="640" width="1" height="10" fill="#c0c0c0"/>
<rect x="382" y="641" width="1" height="9" fill="#c0c0c0"/>
<rect x="390" y="641" width="1" height="9" fill="#c0c0c0"/>
<rect x="398" y="642" width="1" height="8" fill="#c0c0c0"/>
<rect x="406" y="643" width="1" height="7" fill="#c0c0c0"/>
<rect x="414" y="643" width="1" height="7" fill="#c0c0c0"/>
<rect x="422" y="644" width="1" height="6" fill="#c0c0c0"/>
<rect x="430" y="644" width="1" height="6" fill="#c0c0c0"/>
<rect x="438" y="645" width="1" height="5" fill="#c0c0c0"/>
<rect x="446" y="646" width="1" height="4" fill="#c0c0c0"/>
<rect x="454" y="646" width="1" height="4" fill="#c0c0c0"/>
<rect x="462" y="646" width="1" height="4" fill="#c0c0c0"/>
<rect x="470" y="646" width="1" height="4" fill="#c0c0c0"/>
<rect x="478" y="645" width="1" height="5" fill="#c0c0c0"/>
<rect x="486" y="644" width="1" height="6" fill="#c0c0c0"/>
<rect x="494" y="643" width="1" height="7" fill="#c0c0c0"/>
<rect x="502" y="642" width="1" height="8" fill="#c0c0c0"/>
<rect x="510" y="641" width="1" height="9" fill="#c0c0c0"/>
<rect x="518" y="642" width="1" height="8" fill="#c0c0c0"/>
<rect x="526" y="641" width="1" height="9" fill="#c0c0c0"/>
<rect x="534" y="641" width="1" height="9" fill="#c0c0c0"/>
<rect x="542" y="641" width="1" height="9" fill="#c0c0c0"/>
<rect x="550" y="640" width="1" height="10" fill="#c0c0c0"/>
<rect x="558" y="639" width="1" height="11" fill="#c0c0c0"/>
<rect x="566" y="635" width="1" height="15" fill="#c0c0c0"/>
<rect x="574" y="632" width="1" height="18" fill="#c0c0c0"/>
<rect x="582" y="628" width="1" height="22" fill="#c0c0c0"/>
<rect x="590" y="624" width="1" height="26" fill="#c0c0c0"/>
<rect x="598" y="622" width="1" height="28" fill="#c0c0c0"/>
<rect x="606" y="620" width="1" height="30" fill="#c0c0c0"/>
<rect x="614" y="616" width="1" height="34" fill="#c0c0c0"/>
<rect x="622" y="609" width="1" height="41" fill="#c0c0c0"/>
<rect x="630" y="604" width="1" height="46" fill="#c0c0c0"/>
<rect x="638" y="603" width="1" height="47" fill="#c0c0c0"/>
<rect x="646" y="601" width="1" height="49" fill="#c0c0c0"/>
<rect x="654" y="599" width="1" height="51" fill="#c0c0c0"/>
<rect x="662" y="599" width="1" height="51" fill="#c0c0c0"/>
<rect x="670" y="601" width="1" height="49" fill="#c0c0c0"/>
<rect x="678" y="607" width="1" height="43" fill="#c0c0c0"/>
<rect x="686" y="612" width="1" height="38" fill="#c0c0c0"/>
<rect x="694" y="618" width="1" height="32" fill="#c0c0c0"/>
<rect x="702" y="620" width="1" height="30" fill="#c0c0c0"/>
<rect x="710" y="622" width="1" height="28" fill="#c0c0c0"/>
<rect x="718" y="623" width="1" height="27" fill="#c0c0c0"/>
<rect x="726" y="626" width="1" height="24" fill="#c0c0c0"/>
<rect x="734" y="628" width="1" height="22" fill="#c0c0c0"/>
<rect x="742" y="629" width="1" height="21" fill="#c0c0c0"/>
<rect x="750" y="631" width="1" height="19" fill="#c0c0c0"/>
<rect x="758" y="635" width="1" height="15" fill="#c0c0c0"/>
<rect x="766" y="637" width="1" height="13" fill="#c0c0c0"/>
<rect x="774" y="640" width="1" height="10" fill="#c0c0c0"/>
<rect x="782" y="642" width="1" height="8" fill="#c0c0c0"/>
<rect x="790" y="644" width="1" height="6" fill="#c0c0c0"/>
<rect x="798" y="646" width="1" height="4" fill="#c0c0c0"/>
<rect x="806" y="648" width="1" height="2" fill="#c0c0c0"/>
<rect x="814" y="646" width="1" height="4" fill="#c0c0c0"/>
<rect x="822" y="645" width="1" height="5" fill="#c0c0c0"/>
<rect x="830" y="646" width="1" height="4" fill="#c0c0c0"/>
<rect x="838" y="646" width="1" height="4" fill="#c0c0c0"/>
<rect x="846" y="646" width="1" height="4" fill="#c0c0c0"/>
<rect x="854" y="644" width="1" height="6" fill="#c0c0c0"/>
<rect x="862" y="644" width="1" height="6" fill="#c0c0c0"/>
<rect x="870" y="645" width="1" height="5" fill="#c0c0c0"/>
<rect x="878" y="645" width="1" height="5" fill="#c0c0c0"/>
<rect x="886" y="645" width="1" height="5" fill="#c0c0c0"/>
<rect x="894" y="645" width="1" height="5" fill="#c0c0c0"/>
<rect x="902" y="647" width="1" height="3" fill="#c0c0c0"/>
<rect x="918" y="649" width="1" height="2" fill="#c0c0c0"/>
<rect x="942" y="648" width="1" height="2" fill="#c0c0c0"/>
<rect x="958" y="647" width="1" height="3" fill="#c0c0c0"/>
<rect x="974" y="649" width="1" height="2" fill="#c0c0c0"/>
<rect x="982" y="649" width="1" height="3" fill="#c0c0c0"/>
<rect x="990" y="649" width="1" height="3" fill="#c0c0c0"/>
<rect x="998" y="649" width="1" height="3" fill="#c0c0c0"/>
<rect x="1006" y="649" width="1" height="2" fill="#c0c0c0"/>
<rect x="1022" y="648" width="1" height="2" fill="#c0c0c0"/>
<rect x="1030" y="647" width="1" height="3" fill="#c0c0c0"/>
<rect x="1046" y="649" width="1" height="3" fill="#c0c0c0"/>
<rect x="1054" y="649" width="1" height="4" fill="#c0c0c0"/>
<rect x="1062" y="649" width="1" height="4" fill="#c0c0c0"/>
<rect x="1070" y="649" width="1" height="4" fill="#c0c0c0"/>
<rect x="1078" y="649" width="1" height="3" fill="#c0c0c0"/>
<rect x="1086" y="649" width="1" height="4" fill="#c0c0c0"/>
<rect x="1094" y="649" width="1" height="6" fill="#c0c0c0"/>
<rect x="1102" y="649" width="1" height="8" fill="#c0c0c0"/>
<rect x="1110" y="649" width="1" height="9" fill="#c0c0c0"/>
<rect x="1118" y="649" width="1" height="10" fill="#c0c0c0"/>
<rect x="1126" y="649" width="1" height="11" fill="#c0c0c0"/>
<rect x="1134" y="649" width="1" height="14" fill="#c0c0c0"/>
<rect x="1142" y="649" width="1" height="17" fill="#c0c0c0"/>
<rect x="1150" y="649" width="1" height="20" fill="#c0c0c0"/>
<rect x="1158" y="649" width="1" height="21" fill="#c0c0c0"/>
<rect x="1166" y="649" width="1" height="24" fill="#c0c0c0"/>
<rect x="1174" y="649" width="1" height="25" fill="#c0c0c0"/>
<rect x="6" y="651" width="1" height="1" fill="#ff0000"/>
<rect x="7" y="651" width="1" height="1" fill="#ff0000"/>
<rect x="8" y="651" width="1" height="1" fill="#ff0000"/>
<rect x="12" y="651" width="1" height="1" fill="#ff0000"/>
<rect x="13" y="651" width="1" height="1" fill="#ff0000"/>
<rect x="14" y="651" width="1" height="1" fill="#ff0000"/>
<rect x="18" y="652" width="1" height="1" fill="#ff0000"/>
<rect x="19" y="652" width="1" height="1" fill="#ff0000"/>
<rect x="20" y="652" width="1" height="1" fill="#ff0000"/>
<rect x="24" y="652" width="1" height="1" fill="#ff0000"/>
<rect x="25" y="652" width="1" height="1" fill="#ff0000"/>
<rect x="26" y="652" width="1" height="1" fill="#ff0000"/>
<rect x="30" y="652" width="1" height="1" fill="#ff0000"/>
<rect x="31" y="652" width="1" height="1" fill="#ff0000"/>
<rect x="32" y="652" width="1" height="1" fill="#ff0000"/>
<rect x="36" y="653" width="1" height="1" fill="#ff0000"/>
<rect x="37" y="653" width="1" height="1" fill="#ff0000"/>
<rect x="38" y="653" width="1" height="1" fill="#ff0000"/>
<rect x="42" y="653" width="1" height="1" fill="#ff0000"/>
<rect x="43" y="653" width="1" height="1" fill="#ff0000"/>
<rect x="44" y="653" width="1" height="1" fill="#ff0000"/>
<rect x="48" y="653" width="1" height="1" fill="#ff0000"/>
<rect x="49" y="653" width="1" height="1" fill="#ff0000"/>
<rect x="50" y="653" width="1" height="1" fill="#ff0000"/>
<rect x="54" y="653" width="1" height="1" fill="#ff0000"/>
<rect x="55" y="653" width="1" height="1" fill="#ff0000"/>
<rect x="56" y="653" width="1" height="1" fill="#ff0000"/>
<rect x="60" y="653" width="1" height="1" fill="#ff0000"/>
<rect x="61" y="653" width="1" height="1" fill="#ff0000"/>
<rect x="62" y="653" width="1" height="1" fill="#ff0000"/>
<rect x="66" y="653" width="1" height="1" fill="#ff0000"/>
<rect x="67" y="653" width="1" height="1" fill="#ff0000"/>
<rect x="68" y="653" width="1" height="1" fill="#ff0000"/>
<rect x="72" y="653" width="1" height="1" fill="#ff0000"/>
<rect x="73" y="653" width="1" height="1" fill="#ff0000"/>
<rect x="74" y="654" width="1" height="1" fill="#ff0000"/>
<rect x="78" y="654" width="1" height="1" fill="#ff0000"/>
<rect x="79" y="654" width="1" height="1" fill="#ff0000"/>
<rect x="80" y="654" width="1" height="1" fill="#ff0000"/>
<rect x="84" y="654" width="1" height="1" fill="#ff0000"/>
<rect x="85" y="654" width="1" height="1" fill="#ff0000"/>
<rect x="86" y="654" width="1" height="1" fill="#ff0000"/>
<rect x="90" y="654" width="1" height="1" fill="#ff0000"/>
<rect x="91" y="655" width="1" height="1" fill="#ff0000"/>
<rect x="92" y="655" width="1" height="1" fill="#ff0000"/>
<rect x="96" y="655" width="1" height="1" fill="#ff0000"/>
<rect x="97" y="655" width="1" height="1" fill="#ff0000"/>
<rect x="98" y="655" width="1" height="1" fill="#ff0000"/>
<rect x="102" y="655" width="1" height="1" fill="#ff0000"/>
<rect x="103" y="655" width="1" height="1" fill="#ff0000"/>
<rect x="104" y="655" width="1" height="1" fill="#ff0000"/>
<rect x="108" y="656" width="1" height="1" fill="#ff0000"/>
<rect x="109" y="656" width="1" height="1" fill="#ff0000"/>
<rect x="110" y="656" width="1" height="1" fill="#ff0000"/>
<rect x="114" y="656" width="1" height="1" fill="#ff0000"/>
<rect x="115" y="657" width="1" height="1" fill="#ff0000"/>
<rect x="116" y="657" width="1" height="1" fill="#ff0000"/>
<rect x="120" y="657" width="1" height="1" fill="#ff0000"/>
<rect x="121" y="657" width="1" height="1" fill="#ff0000"/>
<rect x="122" y="657" width="1" height="1" fill="#ff0000"/>
<rect x="126" y="657" width="1" height="1" fill="#ff0000"/>
<rect x="127" y="657" width="1" height="1" fill="#ff0000"/>
<rect x="128" y="657" width="1" height="1" fill="#ff0000"/>
<rect x="132" y="658" width="1" height="1" fill="#ff0000"/>
<rect x="133" y="658" width="1" height="1" fill="#ff0000"/>
<rect x="134" y="658" width="1" height="1" fill="#ff0000"/>
<rect x="138" y="658" width="1" height="1" fill="#ff0000"/>
<rect x="139" y="658" width="1" height="1" fill="#ff0000"/>
<rect x="140" y="658" width="1" height="1" fill="#ff0000"/>
<rect x="144" y="658" width="1" height="1" fill="#ff0000"/>
<rect x="145" y="658" width="1" height="1" fill="#ff0000"/>
<rect x="146" y="658" width="1" height="1" fill="#ff0000"/>
<rect x="150" y="658" width="1" height="1" fill="#ff0000"/>
<rect x="151" y="658" width="1" height="1" fill="#ff0000"/>
<rect x="152" y="658" width="1" height="1" fill="#ff0000"/>
<rect x="156" y="658" width="1" height="1" fill="#ff0000"/>
<rect x="157" y="658" width="1" height="1" fill="#ff0000"/>
<rect x="158" y="658" width="1" height="1" fill="#ff0000"/>
<rect x="162" y="658" width="1" height="1" fill="#ff0000"/>
<rect x="163" y="658" width="1" height="1" fill="#ff0000"/>
<rect x="164" y="658" width="1" height="1" fill="#ff0000"/>
<rect x="168" y="658" width="1" height="1" fill="#ff0000"/>
<rect x="169" y="658" width="1" height="1" fill="#ff0000"/>
<rect x="170" y="658" width="1" height="1" fill="#ff0000"/>
<rect x="174" y="657" width="1" height="1" fill="#ff0000"/>
<rect x="175" y="657" width="1" height="1" fill="#ff0000"/>
<rect x="176" y="657" width="1" height="1" fill="#ff0000"/>
<rect x="180" y="657" width="1" height="1" fill="#ff0000"/>
<rect x="181" y="657" width="1" height="1" fill="#ff0000"/>
<rect x="182" y="657" width="1" height="1" fill="#ff0000"/>
<rect x="186" y="656" width="1" height="1" fill="#ff0000"/>
<rect x="187" y="656" width="1" height="1" fill="#ff0000"/>
<rect x="188" y="656" width="1" height="1" fill="#ff0000"/>
<rect x="192" y="656" width="1" height="1" fill="#ff0000"/>
<rect x="193" y="656" width="1" height="1" fill="#ff0000"/>
<rect x="194" y="656" width="1" height="1" fill="#ff0000"/>
<rect x="198" y="655" width="1" height="1" fill="#ff0000"/>
<rect x="199" y="655" width="1" height="1" fill="#ff0000"/>
<rect x="200" y="655" width="1" height="1" fill="#ff0000"/>
<rect x="204" y="655" width="1" height="1" fill="#ff0000"/>
<rect x="205" y="655" width="1" height="1" fill="#ff0000"/>
<rect x="206" y="655" width="1" height="1" fill="#ff0000"/>
<rect x="210" y="654" width="1" height="1" fill="#ff0000"/>
<rect x="211" y="654" width="1" height="1" fill="#ff0000"/>
<rect x="212" y="654" width="1" height="1" fill="#ff0000"/>
<rect x="216" y="654" width="1" height="1" fill="#ff0000"/>
<rect x="217" y="654" width="1" height="1" fill="#ff0000"/>
<rect x="218" y="654" width="1" height="1" fill="#ff0000"/>
<rect x="222" y="654" width="1" height="1" fill="#ff0000"/>
<rect x="223" y="654" width="1" height="1" fill="#ff0000"/>
<rect x="224" y="654" width="1" height="1" fill="#ff0000"/>
<rect x="228" y="653" width="1" height="1" fill="#ff0000"/>
<rect x="229" y="653" width="1" height="1" fill="#ff0000"/>
<rect x="230" y="653" width="1" height="1" fill="#ff0000"/>
<rect x="234" y="653" width="1" height="1" fill="#ff0000"/>
<rect x="235" y="653" width="1" height="1" fill="#ff0000"/>
<rect x="236" y="653" width="1" height="1" fill="#ff0000"/>
<rect x="240" y="653" width="1" height="1" fill="#ff0000"/>
<rect x="241" y="653" width="1" height="1" fill="#ff0000"/>
<rect x="242" y="652" width="1" height="1" fill="#ff0000"/>
<rect x="246" y="652" width="1" height="1" fill="#ff0000"/>
<rect x="247" y="652" width="1" height="1" fill="#ff0000"/>
<rect x="248" y="652" width="1" height="1" fill="#ff0000"/>
<rect x="252" y="652" width="1" height="1" fill="#ff0000"/>
<rect x="253" y="652" width="1" height="1" fill="#ff0000"/>
<rect x="254" y="652" width="1" height="1" fill="#ff0000"/>
<rect x="258" y="652" width="1" height="1" fill="#ff0000"/>
<rect x="259" y="651" width="1" height="1" fill="#ff0000"/>
<rect x="260" y="651" width="1" height="1" fill="#ff0000"/>
<rect x="264" y="651" width="1" height="1" fill="#ff0000"/>
<rect x="265" y="651" width="1" height="1" fill="#ff0000"/>
<rect x="266" y="650" width="1" height="1" fill="#ff0000"/>
<rect x="270" y="650" width="1" height="1" fill="#ff0000"/>
<rect x="271" y="650" width="1" height="1" fill="#ff0000"/>
<rect x="272" y="650" width="1" height="1" fill="#ff0000"/>
<rect x="276" y="649" width="1" height="1" fill="#ff0000"/>
<rect x="277" y="649" width="1" height="1" fill="#ff0000"/>
<rect x="278" y="649" width="1" height="1" fill="#ff0000"/>
<rect x="282" y="649" width="1" height="1" fill="#ff0000"/>
<rect x="283" y="649" width="1" height="1" fill="#ff0000"/>
<rect x="284" y="649" width="1" height="1" fill="#ff0000"/>
<rect x="288" y="649" width="1" height="1" fill="#ff0000"/>
<rect x="289" y="649" width="1" height="1" fill="#ff0000"/>
<rect x="290" y="648" width="1" height="1" fill="#ff0000"/>
<rect x="294" y="648" width="1" height="1" fill="#ff0000"/>
<rect x="295" y="648" width="1" height="1" fill="#ff0000"/>
<rect x="296" y="648" width="1" height="1" fill="#ff0000"/>
<rect x="300" y="647" width="1" height="1" fill="#ff0000"/>
<rect x="301" y="647" width="1" height="1" fill="#ff0000"/>
<rect x="302" y="647" width="1" height="1" fill="#ff0000"/>
<rect x="306" y="646" width="1" height="1" fill="#ff0000"/>
<rect x="307" y="646" width="1" height="1" fill="#ff0000"/>
<rect x="308" y="646" width="1" height="1" fill="#ff0000"/>
<rect x="312" y="646" width="1" height="1" fill="#ff0000"/>
<rect x="313" y="646" width="1" height="1" fill="#ff0000"/>
<rect x="314" y="646" width="1" height="1" fill="#ff0000"/>
<rect x="318" y="645" width="1" height="1" fill="#ff0000"/>
<rect x="319" y="645" width="1" height="1" fill="#ff0000"/>
<rect x="320" y="645" width="1" height="1" fill="#ff0000"/>
<rect x="324" y="644" width="1" height="1" fill="#ff0000"/>
<rect x="325" y="644" width="1" height="1" fill="#ff0000"/>
<rect x="326" y="644" width="1" height="1" fill="#ff0000"/>
<rect x="330" y="644" width="1" height="1" fill="#ff0000"/>
<rect x="331" y="644" width="1" height="1" fill="#ff0000"/>
<rect x="332" y="644" width="1" height="1" fill="#ff0000"/>
<rect x="336" y="644" width="1" height="1" fill="#ff0000"/>
<rect x="337" y="644" width="1" height="1" fill="#ff0000"/>
<rect x="338" y="644" width="1" height="1" fill="#ff0000"/>
<rect x="342" y="643" width="1" height="1" fill="#ff0000"/>
<rect x="343" y="643" width="1" height="1" fill="#ff0000"/>
<rect x="344" y="643" width="1" height="1" fill="#ff0000"/>
<rect x="348" y="642" width="1" height="1" fill="#ff0000"/>
<rect x="349" y="642" width="1" height="1" fill="#ff0000"/>
<rect x="350" y="642" width="1" height="1" fill="#ff0000"/>
<rect x="354" y="642" width="1" height="1" fill="#ff0000"/>
<rect x="355" y="642" width="1" height="1" fill="#ff0000"/>
<rect x="356" y="642" width="1" height="1" fill="#ff0000"/>
<rect x="360" y="642" width="1" height="1" fill="#ff0000"/>
<rect x="361" y="642" width="1" height="1" fill="#ff0000"/>
<rect x="362" y="642" width="1" height="1" fill="#ff0000"/>
<rect x="366" y="641" width="1" height="1" fill="#ff0000"/>
<rect x="367" y="641" width="1" height="1" fill="#ff0000"/>
<rect x="368" y="641" width="1" height="1" fill="#ff0000"/>
<rect x="372" y="641" width="1" height="1" fill="#ff0000"/>
<rect x="373" y="641" width="1" height="1" fill="#ff0000"/>
<rect x="374" y="641" width="1" height="1" fill="#ff0000"/>
<rect x="378" y="640" width="1" height="1" fill="#ff0000"/>
<rect x="379" y="640" width="1" height="1" fill="#ff0000"/>
<rect x="380" y="640" width="1" height="1" fill="#ff0000"/>
<rect x="384" y="640" width="1" height="1" fill="#ff0000"/>
<rect x="385" y="640" width="1" height="1" fill="#ff0000"/>
<rect x="386" y="640" width="1" height="1" fill="#ff0000"/>
<rect x="390" y="640" width="1" height="1" fill="#ff0000"/>
<rect x="391" y="640" width="1" height="1" fill="#ff0000"/>
<rect x="392" y="640" width="1" height="1" fill="#ff0000"/>
<rect x="396" y="640" width="1" height="1" fill="#ff0000"/>
<rect x="397" y="640" width="1" height="1" fill="#ff0000"/>
<rect x="398" y="640" width="1" height="1" fill="#ff0000"/>
<rect x="402" y="640" width="1" height="1" fill="#ff0000"/>
<rect x="403" y="641" width="1" height="1" fill="#ff0000"/>
<rect x="404" y="641" width="1" height="1" fill="#ff0000"/>
<rect x="408" y="641" width="1" height="1" fill="#ff0000"/>
<rect x="409" y="641" width="1" height="1" fill="#ff0000"/>
<rect x="410" y="641" width="1" height="1" fill="#ff0000"/>
<rect x="414" y="641" width="1" height="1" fill="#ff0000"/>
<rect x="415" y="641" width="1" height="1" fill="#ff0000"/>
<rect x="416" y="641" width="1" height="1" fill="#ff0000"/>
<rect x="420" y="641" width="1" height="1" fill="#ff0000"/>
<rect x="421" y="641" width="1" height="1" fill="#ff0000"/>
<rect x="422" y="641" width="1" height="1" fill="#ff0000"/>
<rect x="426" y="642" width="1" height="1" fill="#ff0000"/>
<rect x="427" y="642" width="1" height="1" fill="#ff0000"/>
<rect x="428" y="642" width="1" height="1" fill="#ff0000"/>
<rect x="432" y="642" width="1" height="1" fill="#ff0000"/>
<rect x="433" y="642" width="1" height="1" fill="#ff0000"/>
<rect x="434" y="642" width="1" height="1" fill="#ff0000"/>
<rect x="438" y="643" width="1" height="1" fill="#ff0000"/>
<rect x="439" y="643" width="1" height="1" fill="#ff0000"/>
<rect x="440" y="643" width="1" height="1" fill="#ff0000"/>
<rect x="444" y="643" width="1" height="1" fill="#ff0000"/>
<rect x="445" y="643" width="1" height="1" fill="#ff0000"/>
<rect x="446" y="643" width="1" height="1" fill="#ff0000"/>
<rect x="450" y="644" width="1" height="1" fill="#ff0000"/>
<rect x="451" y="644" width="1" height="1" fill="#ff0000"/>
<rect x="452" y="644" width="1" height="1" fill="#ff0000"/>
<rect x="456" y="644" width="1" height="1" fill="#ff0000"/>
<rect x="457" y="644" width="1" height="1" fill="#ff0000"/>
<rect x="458" y="644" width="1" height="1" fill="#ff0000"/>
<rect x="462" y="644" width="1" height="1" fill="#ff0000"/>
<rect x="463" y="644" width="1" height="1" fill="#ff0000"/>
<rect x="464" y="644" width="1" height="1" fill="#ff0000"/>
<rect x="468" y="645" width="1" height="1" fill="#ff0000"/>
<rect x="469" y="645" width="1" height="1" fill="#ff0000"/>
<rect x="470" y="645" width="1" height="1" fill="#ff0000"/>
<rect x="474" y="645" width="1" height="1" fill="#ff0000"/>
<rect x="475" y="645" width="1" height="1" fill="#ff0000"/>
<rect x="476" y="645" width="1" height="1" fill="#ff0000"/>
<rect x="480" y="645" width="1" height="1" fill="#ff0000"/>
<rect x="481" y="645" width="1" height="1" fill="#ff0000"/>
<rect x="482" y="645" width="1" height="1" fill="#ff0000"/>
<rect x="486" y="645" width="1" height="1" fill="#ff0000"/>
<rect x="487" y="645" width="1" height="1" fill="#ff0000"/>
<rect x="488" y="645" width="1" height="1" fill="#ff0000"/>
<rect x="492" y="645" width="1" height="1" fill="#ff0000"/>
<rect x="493" y="645" width="1" height="1" fill="#ff0000"/>
<rect x="494" y="645" width="1" height="1" fill="#ff0000"/>
<rect x="498" y="645" width="1" height="1" fill="#ff0000"/>
<rect x="499" y="645" width="1" height="1" fill="#ff0000"/>
<rect x="500" y="645" width="1" height="1" fill="#ff0000"/>
<rect x="504" y="645" width="1" height="1" fill="#ff0000"/>
<rect x="505" y="645" width="1" height="1" fill="#ff0000"/>
<rect x="506" y="644" width="1" height="1" fill="#ff0000"/>
<rect x="510" y="644" width="1" height="1" fill="#ff0000"/>
<rect x="511" y="644" width="1" height="1" fill="#ff0000"/>
<rect x="512" y="644" width="1" height="1" fill="#ff0000"/>
<rect x="516" y="644" width="1" height="1" fill="#ff0000"/>
<rect x="517" y="644" width="1" height="1" fill="#ff0000"/>
<rect x="518" y="644" width="1" height="1" fill="#ff0000"/>
<rect x="522" y="644" width="1" height="1" fill="#ff0000"/>
<rect x="523" y="643" width="1" height="1" fill="#ff0000"/>
<rect x="524" y="643" width="1" height="1" fill="#ff0000"/>
<rect x="528" y="643" width="1" height="1" fill="#ff0000"/>
<rect x="529" y="643" width="1" height="1" fill="#ff0000"/>
<rect x="530" y="643" width="1" height="1" fill="#ff0000"/>
<rect x="534" y="643" width="1" height="1" fill="#ff0000"/>
<rect x="535" y="643" width="1" height="1" fill="#ff0000"/>
<rect x="536" y="643" width="1" height="1" fill="#ff0000"/>
<rect x="540" y="642" width="1" height="1" fill="#ff0000"/>
<rect x="541" y="642" width="1" height="1" fill="#ff0000"/>
<rect x="542" y="642" width="1" height="1" fill="#ff0000"/>
<rect x="546" y="642" width="1" height="1" fill="#ff0000"/>
<rect x="547" y="642" width="1" height="1" fill="#ff0000"/>
<rect x="548" y="642" width="1" height="1" fill="#ff0000"/>
<rect x="552" y="642" width="1" height="1" fill="#ff0000"/>
<rect x="553" y="642" width="1" height="1" fill="#ff0000"/>
<rect x="554" y="642" width="1" height="1" fill="#ff0000"/>
<rect x="558" y="641" width="1" height="1" fill="#ff0000"/>
<rect x="559" y="641" width="1" height="1" fill="#ff0000"/>
<rect x="560" y="641" width="1" height="1" fill="#ff0000"/>
<rect x="564" y="640" width="1" height="1" fill="#ff0000"/>
<rect x="565" y="640" width="1" height="1" fill="#ff0000"/>
<rect x="566" y="640" width="1" height="1" fill="#ff0000"/>
<rect x="570" y="640" width="1" height="1" fill="#ff0000"/>
<rect x="571" y="639" width="1" height="1" fill="#ff0000"/>
<rect x="572" y="639" width="1" height="1" fill="#ff0000"/>
<rect x="576" y="639" width="1" height="1" fill="#ff0000"/>
<rect x="577" y="639" width="1" height="1" fill="#ff0000"/>
<rect x="578" y="638" width="1" height="1" fill="#ff0000"/>
<rect x="582" y="638" width="1" height="1" fill="#ff0000"/>
<rect x="583" y="638" width="1" height="1" fill="#ff0000"/>
<rect x="584" y="638" width="1" height="1" fill="#ff0000"/>
<rect x="588" y="636" width="1" height="1" fill="#ff0000"/>
<rect x="589" y="636" width="1" height="1" fill="#ff0000"/>
<rect x="590" y="636" width="1" height="1" fill="#ff0000"/>
<rect x="594" y="635" width="1" height="1" fill="#ff0000"/>
<rect x="595" y="635" width="1" height="1" fill="#ff0000"/>
<rect x="596" y="634" width="1" height="1" fill="#ff0000"/>
<rect x="600" y="633" width="1" height="1" fill="#ff0000"/>
<rect x="601" y="633" width="1" height="1" fill="#ff0000"/>
<rect x="602" y="632" width="1" height="1" fill="#ff0000"/>
<rect x="606" y="631" width="1" height="1" fill="#ff0000"/>
<rect x="607" y="631" width="1" height="1" fill="#ff0000"/>
<rect x="608" y="630" width="1" height="1" fill="#ff0000"/>
<rect x="612" y="629" width="1" height="1" fill="#ff0000"/>
<rect x="613" y="628" width="1" height="1" fill="#ff0000"/>
<rect x="614" y="628" width="1" height="1" fill="#ff0000"/>
<rect x="618" y="626" width="1" height="1" fill="#ff0000"/>
<rect x="619" y="626" width="1" height="1" fill="#ff0000"/>
<rect x="620" y="626" width="1" height="1" fill="#ff0000"/>
<rect x="624" y="624" width="1" height="1" fill="#ff0000"/>
<rect x="625" y="624" width="1" height="1" fill="#ff0000"/>
<rect x="626" y="623" width="1" height="1" fill="#ff0000"/>
<rect x="630" y="621" width="1" height="1" fill="#ff0000"/>
<rect x="631" y="621" width="1" height="1" fill="#ff0000"/>
<rect x="632" y="620" width="1" height="1" fill="#ff0000"/>
<rect x="636" y="619" width="1" height="1" fill="#ff0000"/>
<rect x="637" y="618" width="1" height="1" fill="#ff0000"/>
<rect x="638" y="618" width="1" height="1" fill="#ff0000"/>
<rect x="642" y="616" width="1" height="1" fill="#ff0000"/>
<rect x="643" y="616" width="1" height="1" fill="#ff0000"/>
<rect x="644" y="615" width="1" height="1" fill="#ff0000"/>
<rect x="648" y="613" width="1" height="1" fill="#ff0000"/>
<rect x="649" y="613" width="1" height="1" fill="#ff0000"/>
<rect x="650" y="612" width="1" height="1" fill="#ff0000"/>
<rect x="654" y="611" width="1" height="1" fill="#ff0000"/>
<rect x="655" y="611" width="1" height="1" fill="#ff0000"/>
<rect x="656" y="610" width="1" height="1" fill="#ff0000"/>
<rect x="660" y="609" width="1" height="1" fill="#ff0000"/>
<rect x="661" y="608" width="1" height="1" fill="#ff0000"/>
<rect x="662" y="608" width="1" height="1" fill="#ff0000"/>
<rect x="666" y="607" width="1" height="1" fill="#ff0000"/>
<rect x="667" y="607" width="1" height="1" fill="#ff0000"/>
<rect x="668" y="606" width="1" height="1" fill="#ff0000"/>
<rect x="672" y="606" width="1" height="1" fill="#ff0000"/>
<rect x="673" y="605" width="1" height="1" fill="#ff0000"/>
<rect x="674" y="605" width="1" height="1" fill="#ff0000"/>
<rect x="678" y="604" width="1" height="1" fill="#ff0000"/>
<rect x="679" y="604" width="1" height="1" fill="#ff0000"/>
<rect x="680" y="604" width="1" height="1" fill="#ff0000"/>
<rect x="684" y="604" width="1" height="1" fill="#ff0000"/>
<rect x="685" y="604" width="1" height="1" fill="#ff0000"/>
<rect x="686" y="604" width="1" height="1" fill="#ff0000"/>
<rect x="690" y="604" width="1" height="1" fill="#ff0000"/>
<rect x="691" y="605" width="1" height="1" fill="#ff0000"/>
<rect x="692" y="605" width="1" height="1" fill="#ff0000"/>
<rect x="696" y="605" width="1" height="1" fill="#ff0000"/>
<rect x="697" y="605" width="1" height="1" fill="#ff0000"/>
<rect x="698" y="606" width="1" height="1" fill="#ff0000"/>
<rect x="702" y="606" width="1" height="1" fill="#ff0000"/>
<rect x="703" y="606" width="1" height="1" fill="#ff0000"/>
<rect x="704" y="607" width="1" height="1" fill="#ff0000"/>
<rect x="708" y="608" width="1" height="1" fill="#ff0000"/>
<rect x="709" y="609" width="1" height="1" fill="#ff0000"/>
<rect x="710" y="609" width="1" height="1" fill="#ff0000"/>
<rect x="714" y="610" width="1" height="1" fill="#ff0000"/>
<rect x="715" y="610" width="1" height="1" fill="#ff0000"/>
<rect x="716" y="610" width="1" height="1" fill="#ff0000"/>
<rect x="720" y="612" width="1" height="1" fill="#ff0000"/>
<rect x="721" y="612" width="1" height="1" fill="#ff0000"/>
<rect x="722" y="612" width="1" height="1" fill="#ff0000"/>
<rect x="726" y="614" width="1" height="1" fill="#ff0000"/>
<rect x="727" y="614" width="1" height="1" fill="#ff0000"/>
<rect x="728" y="615" width="1" height="1" fill="#ff0000"/>
<rect x="732" y="616" width="1" height="1" fill="#ff0000"/>
<rect x="733" y="617" width="1" height="1" fill="#ff0000"/>
<rect x="734" y="617" width="1" height="1" fill="#ff0000"/>
<rect x="738" y="619" width="1" height="1" fill="#ff0000"/>
<rect x="739" y="620" width="1" height="1" fill="#ff0000"/>
<rect x="740" y="620" width="1" height="1" fill="#ff0000"/>
<rect x="744" y="622" width="1" height="1" fill="#ff0000"/>
<rect x="745" y="622" width="1" height="1" fill="#ff0000"/>
<rect x="746" y="622" width="1" height="1" fill="#ff0000"/>
<rect x="750" y="623" width="1" height="1" fill="#ff0000"/>
<rect x="751" y="623" width="1" height="1" fill="#ff0000"/>
<rect x="752" y="624" width="1" height="1" fill="#ff0000"/>
<rect x="756" y="625" width="1" height="1" fill="#ff0000"/>
<rect x="757" y="626" width="1" height="1" fill="#ff0000"/>
<rect x="758" y="626" width="1" height="1" fill="#ff0000"/>
<rect x="762" y="627" width="1" height="1" fill="#ff0000"/>
<rect x="763" y="627" width="1" height="1" fill="#ff0000"/>
<rect x="764" y="628" width="1" height="1" fill="#ff0000"/>
<rect x="768" y="628" width="1" height="1" fill="#ff0000"/>
<rect x="769" y="629" width="1" height="1" fill="#ff0000"/>
<rect x="770" y="629" width="1" height="1" fill="#ff0000"/>
<rect x="774" y="630" width="1" height="1" fill="#ff0000"/>
<rect x="775" y="630" width="1" height="1" fill="#ff0000"/>
<rect x="776" y="630" width="1" height="1" fill="#ff0000"/>
<rect x="780" y="632" width="1" height="1" fill="#ff0000"/>
<rect x="781" y="632" width="1" height="1" fill="#ff0000"/>
<rect x="782" y="632" width="1" height="1" fill="#ff0000"/>
<rect x="786" y="634" width="1" height="1" fill="#ff0000"/>
<rect x="787" y="634" width="1" height="1" fill="#ff0000"/>
<rect x="788" y="634" width="1" height="1" fill="#ff0000"/>
<rect x="792" y="636" width="1" height="1" fill="#ff0000"/>
<rect x="793" y="636" width="1" height="1" fill="#ff0000"/>
<rect x="794" y="636" width="1" height="1" fill="#ff0000"/>
<rect x="798" y="637" width="1" height="1" fill="#ff0000"/>
<rect x="799" y="637" width="1" height="1" fill="#ff0000"/>
<rect x="800" y="638" width="1" height="1" fill="#ff0000"/>
<rect x="804" y="638" width="1" height="1" fill="#ff0000"/>
<rect x="805" y="639" width="1" height="1" fill="#ff0000"/>
<rect x="806" y="639" width="1" height="1" fill="#ff0000"/>
<rect x="810" y="640" width="1" height="1" fill="#ff0000"/>
<rect x="811" y="640" width="1" height="1" fill="#ff0000"/>
<rect x="812" y="640" width="1" height="1" fill="#ff0000"/>
<rect x="816" y="641" width="1" height="1" fill="#ff0000"/>
<rect x="817" y="641" width="1" height="1" fill="#ff0000"/>
<rect x="818" y="642" width="1" height="1" fill="#ff0000"/>
<rect x="822" y="642" width="1" height="1" fill="#ff0000"/>
<rect x="823" y="642" width="1" height="1" fill="#ff0000"/>
<rect x="824" y="642" width="1" height="1" fill="#ff0000"/>
<rect x="828" y="644" width="1" height="1" fill="#ff0000"/>
<rect x="829" y="644" width="1" height="1" fill="#ff0000"/>
<rect x="830" y="644" width="1" height="1" fill="#ff0000"/>
<rect x="834" y="644" width="1" height="1" fill="#ff0000"/>
<rect x="835" y="645" width="1" height="1" fill="#ff0000"/>
<rect x="836" y="645" width="1" height="1" fill="#ff0000"/>
<rect x="840" y="645" width="1" height="1" fill="#ff0000"/>
<rect x="841" y="645" width="1" height="1" fill="#ff0000"/>
<rect x="842" y="645" width="1" height="1" fill="#ff0000"/>
<rect x="846" y="645" width="1" height="1" fill="#ff0000"/>
<rect x="847" y="645" width="1" height="1" fill="#ff0000"/>
<rect x="848" y="645" width="1" height="1" fill="#ff0000"/>
<rect x="852" y="646" width="1" height="1" fill="#ff0000"/>
<rect x="853" y="646" width="1" height="1" fill="#ff0000"/>
<rect x="854" y="646" width="1" height="1" fill="#ff0000"/>
<rect x="858" y="646" width="1" height="1" fill="#ff0000"/>
<rect x="859" y="646" width="1" height="1" fill="#ff0000"/>
<rect x="860" y="646" width="1" height="1" fill="#ff0000"/>
<rect x="864" y="646" width="1" height="1" fill="#ff0000"/>
<rect x="865" y="646" width="1" height="1" fill="#ff0000"/>
<rect x="866" y="646" width="1" height="1" fill="#ff0000"/>
<rect x="870" y="645" width="1" height="1" fill="#ff0000"/>
<rect x="871" y="645" width="1" height="1" fill="#ff0000"/>
<rect x="872" y="645" width="1" height="1" fill="#ff0000"/>
<rect x="876" y="645" width="1" height="1" fill="#ff0000"/>
<rect x="877" y="645" width="1" height="1" fill="#ff0000"/>
<rect x="878" y="645" width="1" height="1" fill="#ff0000"/>
<rect x="882" y="645" width="1" height="1" fill="#ff0000"/>
<rect x="883" y="645" width="1" height="1" fill="#ff0000"/>
<rect x="884" y="645" width="1" height="1" fill="#ff0000"/>
<rect x="888" y="645" width="1" height="1" fill="#ff0000"/>
<rect x="889" y="645" width="1" height="1" fill="#ff0000"/>
<rect x="890" y="645" width="1" height="1" fill="#ff0000"/>
<rect x="894" y="645" width="1" height="1" fill="#ff0000"/>
<rect x="895" y="645" width="1" height="1" fill="#ff0000"/>
<rect x="896" y="645" width="1" height="1" fill="#ff0000"/>
<rect x="900" y="645" width="1" height="1" fill="#ff0000"/>
<rect x="901" y="645" width="1" height="1" fill="#ff0000"/>
<rect x="902" y="645" width="1" height="1" fill="#ff0000"/>
<rect x="906" y="645" width="1" height="1" fill="#ff0000"/>
<rect x="907" y="645" width="1" height="1" fill="#ff0000"/>
<rect x="908" y="645" width="1" height="1" fill="#ff0000"/>
<rect x="912" y="645" width="1" height="1" fill="#ff0000"/>
<rect x="913" y="645" width="1" height="1" fill="#ff0000"/>
<rect x="914" y="646" width="1" height="1" fill="#ff0000"/>
<rect x="918" y="646" width="1" height="1" fill="#ff0000"/>
<rect x="919" y="646" width="1" height="1" fill="#ff0000"/>
<rect x="920" y="646" width="1" height="1" fill="#ff0000"/>
<rect x="924" y="646" width="1" height="1" fill="#ff0000"/>
<rect x="925" y="646" width="1" height="1" fill="#ff0000"/>
<rect x="926" y="646" width="1" height="1" fill="#ff0000"/>
<rect x="930" y="646" width="1" height="1" fill="#ff0000"/>
<rect x="931" y="647" width="1" height="1" fill="#ff0000"/>
<rect x="932" y="647" width="1" height="1" fill="#ff0000"/>
<rect x="936" y="647" width="1" height="1" fill="#ff0000"/>
<rect x="937" y="647" width="1" height="1" fill="#ff0000"/>
<rect x="938" y="647" width="1" height="1" fill="#ff0000"/>
<rect x="942" y="647" width="1" height="1" fill="#ff0000"/>
<rect x="943" y="647" width="1" height="1" fill="#ff0000"/>
<rect x="944" y="647" width="1" height="1" fill="#ff0000"/>
<rect x="948" y="648" width="1" height="1" fill="#ff0000"/>
<rect x="949" y="648" width="1" height="1" fill="#ff0000"/>
<rect x="950" y="648" width="1" height="1" fill="#ff0000"/>
<rect x="954" y="648" width="1" height="1" fill="#ff0000"/>
<rect x="955" y="648" width="1" height="1" fill="#ff0000"/>
<rect x="956" y="648" width="1" height="1" fill="#ff0000"/>
<rect x="960" y="648" width="1" height="1" fill="#ff0000"/>
<rect x="961" y="648" width="1" height="1" fill="#ff0000"/>
<rect x="962" y="648" width="1" height="1" fill="#ff0000"/>
<rect x="966" y="648" width="1" height="1" fill="#ff0000"/>
<rect x="967" y="648" width="1" height="1" fill="#ff0000"/>
<rect x="968" y="648" width="1" height="1" fill="#ff0000"/>
<rect x="972" y="649" width="1" height="1" fill="#ff0000"/>
<rect x="973" y="649" width="1" height="1" fill="#ff0000"/>
<rect x="974" y="649" width="1" height="1" fill="#ff0000"/>
<rect x="978" y="649" width="1" height="1" fill="#ff0000"/>
<rect x="979" y="649" width="1" height="1" fill="#ff0000"/>
<rect x="980" y="649" width="1" height="1" fill="#ff0000"/>
<rect x="984" y="649" width="1" height="1" fill="#ff0000"/>
<rect x="985" y="649" width="1" height="1" fill="#ff0000"/>
<rect x="986" y="649" width="1" height="1" fill="#ff0000"/>
<rect x="990" y="649" width="1" height="1" fill="#ff0000"/>
<rect x="991" y="649" width="1" height="1" fill="#ff0000"/>
<rect x="992" y="649" width="1" height="1" fill="#ff0000"/>
<rect x="996" y="649" width="1" height="1" fill="#ff0000"/>
<rect x="997" y="649" width="1" height="1" fill="#ff0000"/>
<rect x="998" y="649" width="1" height="1" fill="#ff0000"/>
<rect x="1002" y="650" width="1" height="1" fill="#ff0000"/>
<rect x="1003" y="650" width="1" height="1" fill="#ff0000"/>
<rect x="1004" y="650" width="1" height="1" fill="#ff0000"/>
<rect x="1008" y="650" width="1" height="1" fill="#ff0000"/>
<rect x="1009" y="650" width="1" height="1" fill="#ff0000"/>
<rect x="1010" y="650" width="1" height="1" fill="#ff0000"/>
<rect x="1014" y="650" width="1" height="1" fill="#ff0000"/>
<rect x="1015" y="650" width="1" height="1" fill="#ff0000"/>
<rect x="1016" y="650" width="1" height="1" fill="#ff0000"/>
<rect x="1020" y="650" width="1" height="1" fill="#ff0000"/>
<rect x="1021" y="650" width="1" height="1" fill="#ff0000"/>
<rect x="1022" y="650" width="1" height="1" fill="#ff0000"/>
<rect x="1026" y="650" width="1" height="1" fill="#ff0000"/>
<rect x="1027" y="650" width="1" height="1" fill="#ff0000"/>
<rect x="1028" y="650" width="1" height="1" fill="#ff0000"/>
<rect x="1032" y="650" width="1" height="1" fill="#ff0000"/>
<rect x="1033" y="650" width="1" height="1" fill="#ff0000"/>
<rect x="1034" y="650" width="1" height="1" fill="#ff0000"/>
<rect x="1038" y="650" width="1" height="1" fill="#ff0000"/>
<rect x="1039" y="650" width="1" height="1" fill="#ff0000"/>
<rect x="1040" y="650" width="1" height="1" fill="#ff0000"/>
<rect x="1044" y="650" width="1" height="1" fill="#ff0000"/>
<rect x="1045" y="650" width="1" height="1" fill="#ff0000"/>
<rect x="1046" y="650" width="1" height="1" fill="#ff0000"/>
<rect x="1050" y="650" width="1" height="1" fill="#ff0000"/>
<rect x="1051" y="650" width="1" height="1" fill="#ff0000"/>
<rect x="1052" y="650" width="1" height="1" fill="#ff0000"/>
<rect x="1056" y="650" width="1" height="1" fill="#ff0000"/>
<rect x="1057" y="650" width="1" height="1" fill="#ff0000"/>
<rect x="1058" y="650" width="1" height="1" fill="#ff0000"/>
<rect x="1062" y="650" width="1" height="1" fill="#ff0000"/>
<rect x="1063" y="650" width="1" height="1" fill="#ff0000"/>
<rect x="1064" y="650" width="1" height="1" fill="#ff0000"/>
<rect x="1068" y="650" width="1" height="1" fill="#ff0000"/>
<rect x="1069" y="650" width="1" height="1" fill="#ff0000"/>
<rect x="1070" y="650" width="1" height="1" fill="#ff0000"/>
<rect x="1074" y="650" width="1" height="1" fill="#ff0000"/>
<rect x="1075" y="650" width="1" height="1" fill="#ff0000"/>
<rect x="1076" y="650" width="1" height="1" fill="#ff0000"/>
<rect x="1080" y="650" width="1" height="1" fill="#ff0000"/>
<rect x="1081" y="650" width="1" height="1" fill="#ff0000"/>
<rect x="1082" y="650" width="1" height="1" fill="#ff0000"/>
<rect x="1086" y="650" width="1" height="1" fill="#ff0000"/>
<rect x="1087" y="650" width="1" height="1" fill="#ff0000"/>
<rect x="1088" y="650" width="1" height="1" fill="#ff0000"/>
<rect x="1092" y="651" width="1" height="1" fill="#ff0000"/>
<rect x="1093" y="651" width="1" height="1" fill="#ff0000"/>
<rect x="1094" y="651" width="1" height="1" fill="#ff0000"/>
<rect x="1098" y="652" width="1" height="1" fill="#ff0000"/>
<rect x="1099" y="652" width="1" height="1" fill="#ff0000"/>
<rect x="1100" y="652" width="1" height="1" fill="#ff0000"/>
<rect x="1104" y="652" width="1" height="1" fill="#ff0000"/>
<rect x="1105" y="652" width="1" height="1" fill="#ff0000"/>
<rect x="1106" y="652" width="1" height="1" fill="#ff0000"/>
<rect x="1110" y="653" width="1" height="1" fill="#ff0000"/>
<rect x="1111" y="653" width="1" height="1" fill="#ff0000"/>
<rect x="1112" y="653" width="1" height="1" fill="#ff0000"/>
<rect x="1116" y="654" width="1" height="1" fill="#ff0000"/>
<rect x="1117" y="654" width="1" height="1" fill="#ff0000"/>
<rect x="1118" y="654" width="1" height="1" fill="#ff0000"/>
<rect x="1122" y="654" width="1" height="1" fill="#ff0000"/>
<rect x="1123" y="655" width="1" height="1" fill="#ff0000"/>
<rect x="1124" y="655" width="1" height="1" fill="#ff0000"/>
<rect x="1128" y="655" width="1" height="1" fill="#ff0000"/>
<rect x="1129" y="655" width="1" height="1" fill="#ff0000"/>
<rect x="1130" y="656" width="1" height="1" fill="#ff0000"/>
<rect x="1134" y="656" width="1" height="1" fill="#ff0000"/>
<rect x="1135" y="656" width="1" height="1" fill="#ff0000"/>
<rect x="1136" y="656" width="1" height="1" fill="#ff0000"/>
<rect x="1140" y="657" width="1" height="1" fill="#ff0000"/>
<rect x="1141" y="657" width="1" height="1" fill="#ff0000"/>
<rect x="1142" y="657" width="1" height="1" fill="#ff0000"/>
<rect x="1146" y="658" width="1" height="1" fill="#ff0000"/>
<rect x="1147" y="658" width="1" height="1" fill="#ff0000"/>
<rect x="1148" y="658" width="1" height="1" fill="#ff0000"/>
<rect x="1152" y="660" width="1" height="1" fill="#ff0000"/>
<rect x="1153" y="660" width="1" height="1" fill="#ff0000"/>
<rect x="1154" y="660" width="1" height="1" fill="#ff0000"/>
<rect x="1158" y="661" width="1" height="1" fill="#ff0000"/>
<rect x="1159" y="661" width="1" height="1" fill="#ff0000"/>
<rect x="1160" y="662" width="1" height="1" fill="#ff0000"/>
<rect x="1164" y="662" width="1" height="1" fill="#ff0000"/>
<rect x="1165" y="663" width="1" height="1" fill="#ff0000"/>
<rect x="1166" y="663" width="1" height="1" fill="#ff0000"/>
<rect x="1170" y="664" width="1" height="1" fill="#ff0000"/>
<rect x="1171" y="664" width="1" height="1" fill="#ff0000"/>
<rect x="1172" y="664" width="1" height="1" fill="#ff0000"/>
</g>
<rect x="1491" y="36" width="2" height="1" fill="#000"/>
<rect x="1491" y="69" width="2" height="1" fill="#000"/>
<rect x="1491" y="102" width="2" height="1" fill="#000"/>
<rect x="1491" y="135" width="2" height="1" fill="#000"/>
<rect x="1491" y="168" width="2" height="1" fill="#000"/>
<rect x="1491" y="201" width="2" height="1" fill="#000"/>
<rect x="1491" y="234" width="2" height="1" fill="#000"/>
<rect x="1491" y="267" width="2" height="1" fill="#000"/>
<rect x="1491" y="300" width="2" height="1" fill="#000"/>
<rect x="1491" y="333" width="2" height="1" fill="#000"/>
<rect x="1491" y="366" width="2" height="1" fill="#000"/>
<rect x="1491" y="399" width="2" height="1" fill="#000"/>
<rect x="1491" y="432" width="2" height="1" fill="#000"/>
<rect x="1491" y="465" width="2" height="1" fill="#000"/>
<rect x="1491" y="498" width="2" height="1" fill="#000"/>
<text transform="translate(1496,40) scale(0.9495,1)" font-size="9.9" fill="#000" stroke="#000" stroke-width="0.18" >1.47165</text>
<text transform="translate(1496,73) scale(0.9495,1)" font-size="9.9" fill="#000" stroke="#000" stroke-width="0.18" >1.45870</text>
<text transform="translate(1496,106) scale(0.9495,1)" font-size="9.9" fill="#000" stroke="#000" stroke-width="0.18" >1.44575</text>
<text transform="translate(1496,139) scale(0.9495,1)" font-size="9.9" fill="#000" stroke="#000" stroke-width="0.18" >1.43315</text>
<text transform="translate(1496,172) scale(0.9495,1)" font-size="9.9" fill="#000" stroke="#000" stroke-width="0.18" >1.42020</text>
<text transform="translate(1496,205) scale(0.9495,1)" font-size="9.9" fill="#000" stroke="#000" stroke-width="0.18" >1.40725</text>
<text transform="translate(1496,238) scale(0.9495,1)" font-size="9.9" fill="#000" stroke="#000" stroke-width="0.18" >1.39430</text>
<text transform="translate(1496,271) scale(0.9495,1)" font-size="9.9" fill="#000" stroke="#000" stroke-width="0.18" >1.38170</text>
<text transform="translate(1496,304) scale(0.9495,1)" font-size="9.9" fill="#000" stroke="#000" stroke-width="0.18" >1.36875</text>
<text transform="translate(1496,337) scale(0.9495,1)" font-size="9.9" fill="#000" stroke="#000" stroke-width="0.18" >1.35580</text>
<text transform="translate(1496,370) scale(0.9495,1)" font-size="9.9" fill="#000" stroke="#000" stroke-width="0.18" >1.34285</text>
<text transform="translate(1496,403) scale(0.9495,1)" font-size="9.9" fill="#000" stroke="#000" stroke-width="0.18" >1.32990</text>
<text transform="translate(1496,436) scale(0.9495,1)" font-size="9.9" fill="#000" stroke="#000" stroke-width="0.18" >1.31730</text>
<text transform="translate(1496,469) scale(0.9495,1)" font-size="9.9" fill="#000" stroke="#000" stroke-width="0.18" >1.30435</text>
<text transform="translate(1496,502) scale(0.9495,1)" font-size="9.9" fill="#000" stroke="#000" stroke-width="0.18" >1.29175</text>
<rect x="1492" y="43" width="41" height="11" fill="#ff0000"/>
<text transform="translate(1496,52) scale(0.9495,1)" font-size="9.9" fill="#fff" stroke="#fff" stroke-width="0.18" >1.46651</text>
<rect x="1492" y="117" width="41" height="11" fill="#ff0000"/>
<text transform="translate(1496,126) scale(0.9495,1)" font-size="9.9" fill="#fff" stroke="#fff" stroke-width="0.18" >1.43780</text>
<rect x="1492" y="188" width="41" height="11" fill="#ff0000"/>
<text transform="translate(1496,197) scale(0.9495,1)" font-size="9.9" fill="#fff" stroke="#fff" stroke-width="0.18" >1.41000</text>
<rect x="1492" y="254" width="41" height="11" fill="#00ff00"/>
<text transform="translate(1496,263) scale(0.9495,1)" font-size="9.9" fill="#fff" stroke="#fff" stroke-width="0.18" >1.38447</text>
<rect x="1492" y="316" width="41" height="11" fill="#0000ff"/>
<text transform="translate(1496,325) scale(0.9495,1)" font-size="9.9" fill="#fff" stroke="#fff" stroke-width="0.18" >1.36029</text>
<rect x="1492" y="393" width="41" height="11" fill="#0000ff"/>
<text transform="translate(1496,402) scale(0.9495,1)" font-size="9.9" fill="#fff" stroke="#fff" stroke-width="0.18" >1.33026</text>
<rect x="1492" y="361" width="41" height="11" fill="#000"/>
<text transform="translate(1496,370) scale(0.9495,1)" font-size="9.9" fill="#fff" stroke="#fff" stroke-width="0.18" >1.34321</text>
<rect x="1491" y="505" width="1" height="1" fill="#000"/>
<rect x="1491" y="589" width="1" height="1" fill="#000"/>
<text transform="translate(1494,514) scale(0.9495,1)" font-size="9.9" fill="#000" stroke="#000" stroke-width="0.18" >100</text>
<text transform="translate(1492.7,534) scale(0.9495,1)" font-size="9.9" fill="#000" stroke="#000" stroke-width="0.18" >70</text>
<text transform="translate(1492.7,568) scale(0.9495,1)" font-size="9.9" fill="#000" stroke="#000" stroke-width="0.18" >30</text>
<text transform="translate(1493.5,587) scale(0.9495,1)" font-size="9.9" fill="#000" stroke="#000" stroke-width="0.18" >0</text>
<rect x="1491" y="594" width="1" height="1" fill="#000"/>
<rect x="1491" y="649" width="1" height="1" fill="#000"/>
<rect x="1491" y="677" width="1" height="1" fill="#000"/>
<text transform="translate(1494,603) scale(0.9495,1)" font-size="9.9" fill="#000" stroke="#000" stroke-width="0.18" >0.03291</text>
<text transform="translate(1494,653) scale(0.9495,1)" font-size="9.9" fill="#000" stroke="#000" stroke-width="0.18" >0.00</text>
<text transform="translate(1494,675) scale(0.9495,1)" font-size="9.9" fill="#000" stroke="#000" stroke-width="0.18" >-0.016857</text>
<rect x="6" y="679" width="1" height="3" fill="#000"/>
<text transform="translate(5,691) scale(0.9495,1)" font-size="9.9" fill="#000" stroke="#000" stroke-width="0.18" >19 Dec 2019</text>
<rect x="70" y="679" width="1" height="3" fill="#000"/>
<text transform="translate(69,691) scale(0.9495,1)" font-size="9.9" fill="#000" stroke="#000" stroke-width="0.18" >28 Dec 2019</text>
<rect x="134" y="679" width="1" height="3" fill="#000"/>
<text transform="translate(133,691) scale(0.9495,1)" font-size="9.9" fill="#000" stroke="#000" stroke-width="0.18" >7 Jan 2020</text>
<rect x="198" y="679" width="1" height="3" fill="#000"/>
<text transform="translate(197,691) scale(0.9495,1)" font-size="9.9" fill="#000" stroke="#000" stroke-width="0.18" >16 Jan 2020</text>
<rect x="262" y="679" width="1" height="3" fill="#000"/>
<text transform="translate(261,691) scale(0.9495,1)" font-size="9.9" fill="#000" stroke="#000" stroke-width="0.18" >25 Jan 2020</text>
<rect x="326" y="679" width="1" height="3" fill="#000"/>
<text transform="translate(325,691) scale(0.9495,1)" font-size="9.9" fill="#000" stroke="#000" stroke-width="0.18" >4 Feb 2020</text>
<rect x="390" y="679" width="1" height="3" fill="#000"/>
<text transform="translate(389,691) scale(0.9495,1)" font-size="9.9" fill="#000" stroke="#000" stroke-width="0.18" >13 Feb 2020</text>
<rect x="454" y="679" width="1" height="3" fill="#000"/>
<text transform="translate(453,691) scale(0.9495,1)" font-size="9.9" fill="#000" stroke="#000" stroke-width="0.18" >22 Feb 2020</text>
<rect x="518" y="679" width="1" height="3" fill="#000"/>
<text transform="translate(517,691) scale(0.9495,1)" font-size="9.9" fill="#000" stroke="#000" stroke-width="0.18" >3 Mar 2020</text>
<rect x="582" y="679" width="1" height="3" fill="#000"/>
<text transform="translate(581,691) scale(0.9495,1)" font-size="9.9" fill="#000" stroke="#000" stroke-width="0.18" >12 Mar 2020</text>
<rect x="646" y="679" width="1" height="3" fill="#000"/>
<text transform="translate(645,691) scale(0.9495,1)" font-size="9.9" fill="#000" stroke="#000" stroke-width="0.18" >21 Mar 2020</text>
<rect x="710" y="679" width="1" height="3" fill="#000"/>
<text transform="translate(709,691) scale(0.9495,1)" font-size="9.9" fill="#000" stroke="#000" stroke-width="0.18" >31 Mar 2020</text>
<rect x="774" y="679" width="1" height="3" fill="#000"/>
<text transform="translate(773,691) scale(0.9495,1)" font-size="9.9" fill="#000" stroke="#000" stroke-width="0.18" >9 Apr 2020</text>
<rect x="838" y="679" width="1" height="3" fill="#000"/>
<text transform="translate(837,691) scale(0.9495,1)" font-size="9.9" fill="#000" stroke="#000" stroke-width="0.18" >18 Apr 2020</text>
<rect x="902" y="679" width="1" height="3" fill="#000"/>
<text transform="translate(901,691) scale(0.9495,1)" font-size="9.9" fill="#000" stroke="#000" stroke-width="0.18" >28 Apr 2020</text>
<rect x="966" y="679" width="1" height="3" fill="#000"/>
<text transform="translate(965,691) scale(0.9899,1)" font-size="9.9" fill="#000" stroke="#000" stroke-width="0.18" >7 May 2020</text>
<rect x="1030" y="679" width="1" height="3" fill="#000"/>
<text transform="translate(1029,691) scale(0.9899,1)" font-size="9.9" fill="#000" stroke="#000" stroke-width="0.18" >16 May 2020</text>
<rect x="1094" y="679" width="1" height="3" fill="#000"/>
<text transform="translate(1093,691) scale(0.9899,1)" font-size="9.9" fill="#000" stroke="#000" stroke-width="0.18" >26 May 2020</text>
<rect x="1158" y="679" width="1" height="3" fill="#000"/>
<text transform="translate(1157,691) scale(0.9495,1)" font-size="9.9" fill="#000" stroke="#000" stroke-width="0.18" >4 Jun 2020</text>
<polygon points="9,32 16,32 12.5,36" fill="#000"/>
<text transform="translate(20.5,37) scale(1.0000,1)" font-size="9.9" fill="#000" stroke="#000" stroke-width="0.18" >USDCAD,Daily</text>
<text transform="translate(92.5,37) scale(0.9343,1)" font-size="9.9" fill="#000" stroke="#000" stroke-width="0.18" >1.34203 1.34467 1.34155 1.34321</text>
<text transform="translate(9.5,516) scale(0.9495,1)" font-size="9.9" fill="#000" stroke="#000" stroke-width="0.18" >RSI(14) 27.4628</text>
<text transform="translate(9.5,605) scale(0.9495,1)" font-size="9.9" fill="#000" stroke="#000" stroke-width="0.18" >MACD(12,26,9) -0.014595 -0.009651</text>
<rect x="111" y="704" width="1" height="14" fill="#6d6d6d"/>
<rect x="211" y="704" width="1" height="14" fill="#6d6d6d"/>
<rect x="523" y="704" width="1" height="14" fill="#6d6d6d"/>
<rect x="627" y="704" width="1" height="14" fill="#6d6d6d"/>
<rect x="731" y="704" width="1" height="14" fill="#6d6d6d"/>
<rect x="823" y="704" width="1" height="14" fill="#6d6d6d"/>
<rect x="895" y="704" width="1" height="14" fill="#6d6d6d"/>
<rect x="975" y="704" width="1" height="14" fill="#6d6d6d"/>
<rect x="1055" y="704" width="1" height="14" fill="#6d6d6d"/>
<rect x="1135" y="704" width="1" height="14" fill="#6d6d6d"/>
<rect x="1211" y="704" width="1" height="14" fill="#6d6d6d"/>
<rect x="1295" y="704" width="1" height="14" fill="#6d6d6d"/>
<rect x="1379" y="704" width="1" height="14" fill="#6d6d6d"/>
<rect x="1447" y="704" width="1" height="14" fill="#6d6d6d"/>
<rect x="315" y="701" width="104" height="19" fill="#fff"/>
<rect x="315" y="701" width="1" height="19" fill="#000"/><rect x="418" y="701" width="1" height="19" fill="#000"/><rect x="315" y="719" width="104" height="1" fill="#000"/>
<text transform="translate(18.5,716) scale(0.97,1)" font-size="12.5" fill="#6d6d6d">EURUSD,Daily</text>
<text transform="translate(120.5,716) scale(0.97,1)" font-size="12.5" fill="#6d6d6d">USDCHF,Daily</text>
<text transform="translate(221.5,716) scale(0.97,1)" font-size="12.5" fill="#6d6d6d">AUDUSD,Daily</text>
<text transform="translate(325.5,716) scale(0.97,1)" font-size="12.5" fill="#000">USDCAD,Daily</text>
<text transform="translate(428.5,716) scale(0.97,1)" font-size="12.5" fill="#6d6d6d">USDCNH,Daily</text>
<text transform="translate(534.5,716) scale(0.97,1)" font-size="12.5" fill="#6d6d6d">EURUSD,Daily</text>
<text transform="translate(638.5,716) scale(0.97,1)" font-size="12.5" fill="#6d6d6d">GBPUSD,Daily</text>
<text transform="translate(741.5,716) scale(0.97,1)" font-size="12.5" fill="#6d6d6d">XAUUSD,H4</text>
<text transform="translate(833.5,716) scale(0.97,1)" font-size="12.5" fill="#6d6d6d">HK50,H1</text>
<text transform="translate(905.5,716) scale(0.97,1)" font-size="12.5" fill="#6d6d6d">UK100,H1</text>
<text transform="translate(985.5,716) scale(0.97,1)" font-size="12.5" fill="#6d6d6d">UK100,H1</text>
<text transform="translate(1065.5,716) scale(0.97,1)" font-size="12.5" fill="#6d6d6d">GER30,H1</text>
<text transform="translate(1144.5,716) scale(0.97,1)" font-size="12.5" fill="#6d6d6d">FRA40,H1</text>
<text transform="translate(1220.5,716) scale(0.97,1)" font-size="12.5" fill="#6d6d6d">USOil,Daily</text>
<text transform="translate(1304.5,716) scale(0.97,1)" font-size="12.5" fill="#6d6d6d">USDJPY,H1</text>
<text transform="translate(1388.5,716) scale(0.995,1)" font-size="12.5" fill="#6d6d6d">DJ30,H1</text>
<polygon points="1509,706 1509,713 1505.5,709.5" fill="#a0a0a0"/><polygon points="1525,706 1525,713 1528.5,709.5" fill="#a0a0a0"/>
</svg>
</div>
</body></html>
